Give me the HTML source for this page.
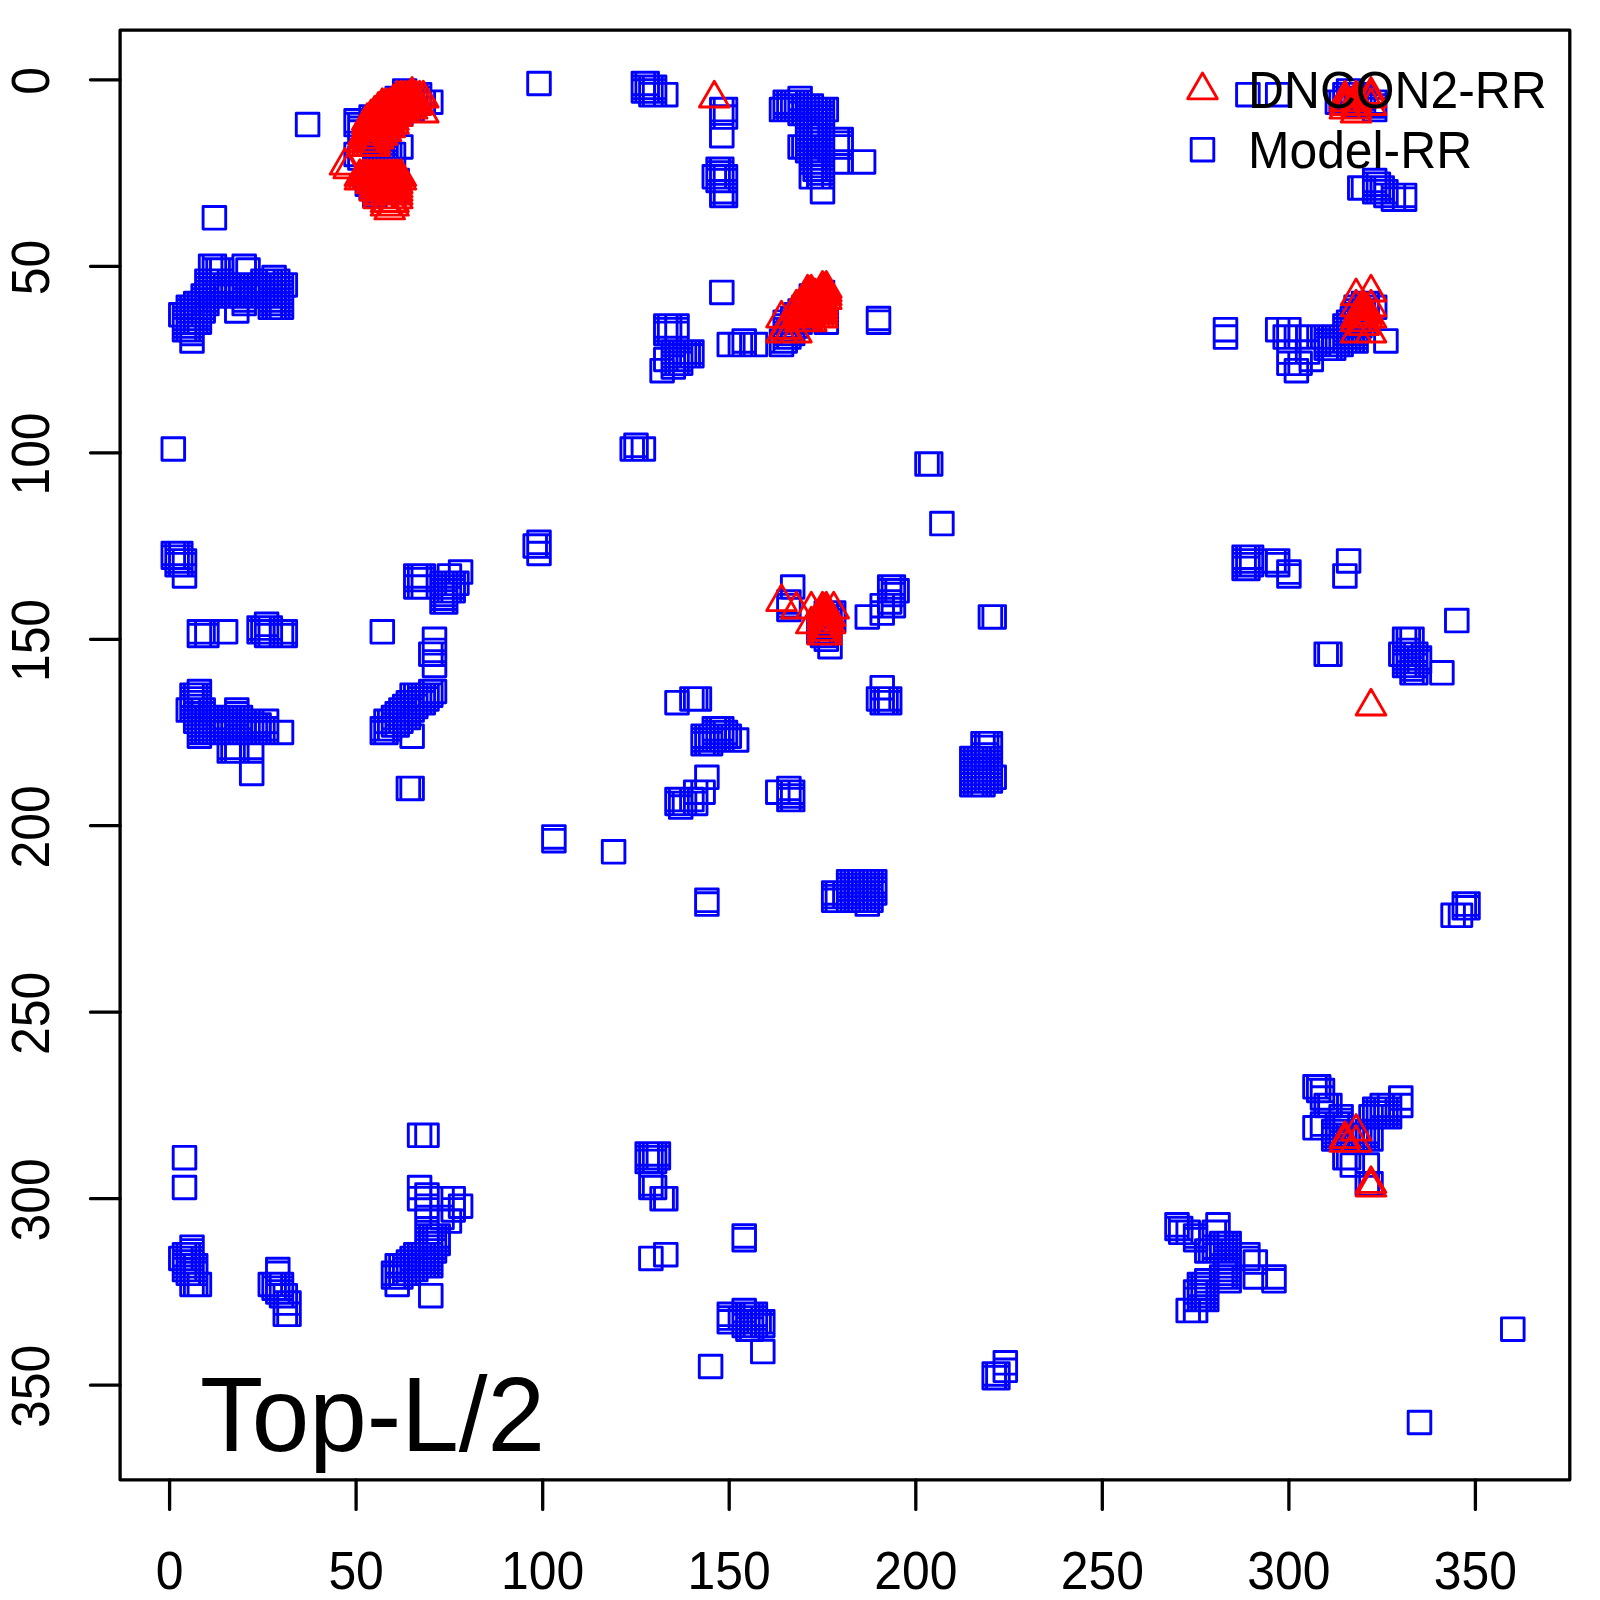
<!DOCTYPE html>
<html><head><meta charset="utf-8"><style>
html,body{margin:0;padding:0;background:#fff;}
svg{display:block;font-family:"Liberation Sans",sans-serif;}
</style></head><body>
<svg width="1600" height="1600" viewBox="0 0 1600 1600">
<rect width="1600" height="1600" fill="#fff"/>
<rect x="120.1" y="30.2" width="1449.7" height="1449.6" fill="none" stroke="#000" stroke-width="3.3" stroke-linejoin="round"/>
<path d="M169.6 1479.8v29.6M120.1 79.8h-29.6M356.1 1479.8v29.6M120.1 266.3h-29.6M542.7 1479.8v29.6M120.1 452.8h-29.6M729.2 1479.8v29.6M120.1 639.3h-29.6M915.8 1479.8v29.6M120.1 825.7h-29.6M1102.3 1479.8v29.6M120.1 1012.2h-29.6M1288.9 1479.8v29.6M120.1 1198.7h-29.6M1475.4 1479.8v29.6M120.1 1385.2h-29.6" fill="none" stroke="#000" stroke-width="3.3" stroke-linecap="round"/>
<text transform="translate(169.6 1588.8) scale(0.997 1.055)" text-anchor="middle" font-size="50">0</text>
<text transform="translate(48.8 81.0) rotate(-90) scale(0.997 1.055)" text-anchor="middle" font-size="50">0</text>
<text transform="translate(356.1 1588.8) scale(0.997 1.055)" text-anchor="middle" font-size="50">50</text>
<text transform="translate(48.8 267.5) rotate(-90) scale(0.997 1.055)" text-anchor="middle" font-size="50">50</text>
<text transform="translate(542.7 1588.8) scale(0.997 1.055)" text-anchor="middle" font-size="50">100</text>
<text transform="translate(48.8 454.0) rotate(-90) scale(0.997 1.055)" text-anchor="middle" font-size="50">100</text>
<text transform="translate(729.2 1588.8) scale(0.997 1.055)" text-anchor="middle" font-size="50">150</text>
<text transform="translate(48.8 640.5) rotate(-90) scale(0.997 1.055)" text-anchor="middle" font-size="50">150</text>
<text transform="translate(915.8 1588.8) scale(0.997 1.055)" text-anchor="middle" font-size="50">200</text>
<text transform="translate(48.8 826.9) rotate(-90) scale(0.997 1.055)" text-anchor="middle" font-size="50">200</text>
<text transform="translate(1102.3 1588.8) scale(0.997 1.055)" text-anchor="middle" font-size="50">250</text>
<text transform="translate(48.8 1013.4) rotate(-90) scale(0.997 1.055)" text-anchor="middle" font-size="50">250</text>
<text transform="translate(1288.9 1588.8) scale(0.997 1.055)" text-anchor="middle" font-size="50">300</text>
<text transform="translate(48.8 1199.9) rotate(-90) scale(0.997 1.055)" text-anchor="middle" font-size="50">300</text>
<text transform="translate(1475.4 1588.8) scale(0.997 1.055)" text-anchor="middle" font-size="50">350</text>
<text transform="translate(48.8 1386.4) rotate(-90) scale(0.997 1.055)" text-anchor="middle" font-size="50">350</text>
<g fill="none" stroke="#0000ff" stroke-width="2.90" stroke-linejoin="round">
<path d="M162.0 437.7h22.6v22.6h-22.6zM162.0 542.2h22.6v22.6h-22.6zM162.0 545.9h22.6v22.6h-22.6zM165.8 542.2h22.6v22.6h-22.6zM165.8 545.9h22.6v22.6h-22.6zM165.8 549.6h22.6v22.6h-22.6zM165.8 553.4h22.6v22.6h-22.6zM169.5 303.5h22.6v22.6h-22.6zM169.5 542.2h22.6v22.6h-22.6zM169.5 545.9h22.6v22.6h-22.6zM169.5 549.6h22.6v22.6h-22.6zM169.5 553.4h22.6v22.6h-22.6zM169.5 1247.1h22.6v22.6h-22.6zM173.2 303.5h22.6v22.6h-22.6zM173.2 307.2h22.6v22.6h-22.6zM173.2 310.9h22.6v22.6h-22.6zM173.2 314.7h22.6v22.6h-22.6zM173.2 318.4h22.6v22.6h-22.6zM173.2 549.6h22.6v22.6h-22.6zM173.2 553.4h22.6v22.6h-22.6zM173.2 564.6h22.6v22.6h-22.6zM173.2 1146.4h22.6v22.6h-22.6zM173.2 1176.2h22.6v22.6h-22.6zM173.2 1243.4h22.6v22.6h-22.6zM173.2 1247.1h22.6v22.6h-22.6zM173.2 1250.8h22.6v22.6h-22.6zM173.2 1254.5h22.6v22.6h-22.6zM173.2 1258.3h22.6v22.6h-22.6zM177.0 296.0h22.6v22.6h-22.6zM177.0 299.7h22.6v22.6h-22.6zM177.0 303.5h22.6v22.6h-22.6zM177.0 307.2h22.6v22.6h-22.6zM177.0 310.9h22.6v22.6h-22.6zM177.0 314.7h22.6v22.6h-22.6zM177.0 318.4h22.6v22.6h-22.6zM177.0 698.8h22.6v22.6h-22.6zM177.0 1243.4h22.6v22.6h-22.6zM177.0 1247.1h22.6v22.6h-22.6zM177.0 1250.8h22.6v22.6h-22.6zM177.0 1254.5h22.6v22.6h-22.6zM177.0 1258.3h22.6v22.6h-22.6zM177.0 1262.0h22.6v22.6h-22.6zM180.7 296.0h22.6v22.6h-22.6zM180.7 299.7h22.6v22.6h-22.6zM180.7 303.5h22.6v22.6h-22.6zM180.7 307.2h22.6v22.6h-22.6zM180.7 310.9h22.6v22.6h-22.6zM180.7 314.7h22.6v22.6h-22.6zM180.7 318.4h22.6v22.6h-22.6zM180.7 322.1h22.6v22.6h-22.6zM180.7 329.6h22.6v22.6h-22.6zM180.7 683.9h22.6v22.6h-22.6zM180.7 687.6h22.6v22.6h-22.6zM180.7 691.4h22.6v22.6h-22.6zM180.7 695.1h22.6v22.6h-22.6zM180.7 698.8h22.6v22.6h-22.6zM180.7 1235.9h22.6v22.6h-22.6zM180.7 1239.6h22.6v22.6h-22.6zM180.7 1243.4h22.6v22.6h-22.6zM180.7 1247.1h22.6v22.6h-22.6zM180.7 1250.8h22.6v22.6h-22.6zM180.7 1254.5h22.6v22.6h-22.6zM180.7 1258.3h22.6v22.6h-22.6zM180.7 1262.0h22.6v22.6h-22.6zM180.7 1273.2h22.6v22.6h-22.6zM184.4 292.3h22.6v22.6h-22.6zM184.4 296.0h22.6v22.6h-22.6zM184.4 299.7h22.6v22.6h-22.6zM184.4 303.5h22.6v22.6h-22.6zM184.4 307.2h22.6v22.6h-22.6zM184.4 310.9h22.6v22.6h-22.6zM184.4 683.9h22.6v22.6h-22.6zM184.4 687.6h22.6v22.6h-22.6zM184.4 691.4h22.6v22.6h-22.6zM184.4 695.1h22.6v22.6h-22.6zM184.4 698.8h22.6v22.6h-22.6zM184.4 702.5h22.6v22.6h-22.6zM184.4 706.3h22.6v22.6h-22.6zM184.4 710.0h22.6v22.6h-22.6zM184.4 1254.5h22.6v22.6h-22.6zM184.4 1258.3h22.6v22.6h-22.6zM184.4 1262.0h22.6v22.6h-22.6zM184.4 1273.2h22.6v22.6h-22.6zM188.1 292.3h22.6v22.6h-22.6zM188.1 296.0h22.6v22.6h-22.6zM188.1 299.7h22.6v22.6h-22.6zM188.1 303.5h22.6v22.6h-22.6zM188.1 307.2h22.6v22.6h-22.6zM188.1 310.9h22.6v22.6h-22.6zM188.1 620.5h22.6v22.6h-22.6zM188.1 624.2h22.6v22.6h-22.6zM188.1 680.2h22.6v22.6h-22.6zM188.1 683.9h22.6v22.6h-22.6zM188.1 687.6h22.6v22.6h-22.6zM188.1 691.4h22.6v22.6h-22.6zM188.1 695.1h22.6v22.6h-22.6zM188.1 698.8h22.6v22.6h-22.6zM188.1 702.5h22.6v22.6h-22.6zM188.1 706.3h22.6v22.6h-22.6zM188.1 710.0h22.6v22.6h-22.6zM188.1 713.7h22.6v22.6h-22.6zM188.1 717.5h22.6v22.6h-22.6zM188.1 721.2h22.6v22.6h-22.6zM188.1 724.9h22.6v22.6h-22.6zM188.1 1273.2h22.6v22.6h-22.6zM191.9 284.8h22.6v22.6h-22.6zM191.9 288.6h22.6v22.6h-22.6zM191.9 292.3h22.6v22.6h-22.6zM191.9 296.0h22.6v22.6h-22.6zM191.9 299.7h22.6v22.6h-22.6zM191.9 698.8h22.6v22.6h-22.6zM191.9 702.5h22.6v22.6h-22.6zM191.9 706.3h22.6v22.6h-22.6zM191.9 710.0h22.6v22.6h-22.6zM191.9 713.7h22.6v22.6h-22.6zM191.9 717.5h22.6v22.6h-22.6zM191.9 721.2h22.6v22.6h-22.6zM195.6 269.9h22.6v22.6h-22.6zM195.6 273.6h22.6v22.6h-22.6zM195.6 277.4h22.6v22.6h-22.6zM195.6 281.1h22.6v22.6h-22.6zM195.6 284.8h22.6v22.6h-22.6zM195.6 288.6h22.6v22.6h-22.6zM195.6 292.3h22.6v22.6h-22.6zM195.6 620.5h22.6v22.6h-22.6zM195.6 624.2h22.6v22.6h-22.6zM195.6 706.3h22.6v22.6h-22.6zM195.6 710.0h22.6v22.6h-22.6zM195.6 713.7h22.6v22.6h-22.6zM195.6 717.5h22.6v22.6h-22.6zM195.6 721.2h22.6v22.6h-22.6zM199.3 255.0h22.6v22.6h-22.6zM199.3 269.9h22.6v22.6h-22.6zM199.3 273.6h22.6v22.6h-22.6zM199.3 277.4h22.6v22.6h-22.6zM199.3 281.1h22.6v22.6h-22.6zM199.3 284.8h22.6v22.6h-22.6zM199.3 706.3h22.6v22.6h-22.6zM199.3 710.0h22.6v22.6h-22.6zM199.3 713.7h22.6v22.6h-22.6zM199.3 717.5h22.6v22.6h-22.6zM199.3 721.2h22.6v22.6h-22.6zM203.1 206.5h22.6v22.6h-22.6zM203.1 255.0h22.6v22.6h-22.6zM203.1 258.7h22.6v22.6h-22.6zM203.1 269.9h22.6v22.6h-22.6zM203.1 273.6h22.6v22.6h-22.6zM203.1 277.4h22.6v22.6h-22.6zM203.1 281.1h22.6v22.6h-22.6zM203.1 284.8h22.6v22.6h-22.6zM203.1 706.3h22.6v22.6h-22.6zM203.1 710.0h22.6v22.6h-22.6zM203.1 713.7h22.6v22.6h-22.6zM203.1 717.5h22.6v22.6h-22.6zM203.1 721.2h22.6v22.6h-22.6zM206.8 258.7h22.6v22.6h-22.6zM206.8 269.9h22.6v22.6h-22.6zM206.8 273.6h22.6v22.6h-22.6zM206.8 277.4h22.6v22.6h-22.6zM206.8 281.1h22.6v22.6h-22.6zM206.8 284.8h22.6v22.6h-22.6zM206.8 706.3h22.6v22.6h-22.6zM206.8 710.0h22.6v22.6h-22.6zM206.8 713.7h22.6v22.6h-22.6zM206.8 717.5h22.6v22.6h-22.6zM206.8 721.2h22.6v22.6h-22.6zM210.5 258.7h22.6v22.6h-22.6zM210.5 269.9h22.6v22.6h-22.6zM210.5 273.6h22.6v22.6h-22.6zM210.5 277.4h22.6v22.6h-22.6zM210.5 281.1h22.6v22.6h-22.6zM210.5 284.8h22.6v22.6h-22.6zM210.5 706.3h22.6v22.6h-22.6zM210.5 710.0h22.6v22.6h-22.6zM210.5 713.7h22.6v22.6h-22.6zM210.5 717.5h22.6v22.6h-22.6zM210.5 721.2h22.6v22.6h-22.6zM214.3 273.6h22.6v22.6h-22.6zM214.3 277.4h22.6v22.6h-22.6zM214.3 281.1h22.6v22.6h-22.6zM214.3 284.8h22.6v22.6h-22.6zM214.3 620.5h22.6v22.6h-22.6zM214.3 706.3h22.6v22.6h-22.6zM214.3 710.0h22.6v22.6h-22.6zM214.3 713.7h22.6v22.6h-22.6zM214.3 717.5h22.6v22.6h-22.6zM214.3 721.2h22.6v22.6h-22.6zM218.0 273.6h22.6v22.6h-22.6zM218.0 277.4h22.6v22.6h-22.6zM218.0 281.1h22.6v22.6h-22.6zM218.0 284.8h22.6v22.6h-22.6zM218.0 706.3h22.6v22.6h-22.6zM218.0 710.0h22.6v22.6h-22.6zM218.0 713.7h22.6v22.6h-22.6zM218.0 717.5h22.6v22.6h-22.6zM218.0 721.2h22.6v22.6h-22.6zM218.0 736.1h22.6v22.6h-22.6zM218.0 739.8h22.6v22.6h-22.6zM221.7 273.6h22.6v22.6h-22.6zM221.7 277.4h22.6v22.6h-22.6zM221.7 281.1h22.6v22.6h-22.6zM221.7 284.8h22.6v22.6h-22.6zM221.7 706.3h22.6v22.6h-22.6zM221.7 710.0h22.6v22.6h-22.6zM221.7 713.7h22.6v22.6h-22.6zM221.7 717.5h22.6v22.6h-22.6zM221.7 721.2h22.6v22.6h-22.6zM221.7 736.1h22.6v22.6h-22.6zM221.7 739.8h22.6v22.6h-22.6zM225.5 273.6h22.6v22.6h-22.6zM225.5 277.4h22.6v22.6h-22.6zM225.5 281.1h22.6v22.6h-22.6zM225.5 284.8h22.6v22.6h-22.6zM225.5 299.7h22.6v22.6h-22.6zM225.5 698.8h22.6v22.6h-22.6zM225.5 702.5h22.6v22.6h-22.6zM225.5 706.3h22.6v22.6h-22.6zM225.5 710.0h22.6v22.6h-22.6zM225.5 713.7h22.6v22.6h-22.6zM225.5 717.5h22.6v22.6h-22.6zM225.5 721.2h22.6v22.6h-22.6zM225.5 736.1h22.6v22.6h-22.6zM225.5 739.8h22.6v22.6h-22.6zM229.2 273.6h22.6v22.6h-22.6zM229.2 277.4h22.6v22.6h-22.6zM229.2 281.1h22.6v22.6h-22.6zM229.2 284.8h22.6v22.6h-22.6zM229.2 706.3h22.6v22.6h-22.6zM229.2 710.0h22.6v22.6h-22.6zM229.2 713.7h22.6v22.6h-22.6zM229.2 717.5h22.6v22.6h-22.6zM229.2 721.2h22.6v22.6h-22.6zM232.9 255.0h22.6v22.6h-22.6zM232.9 273.6h22.6v22.6h-22.6zM232.9 277.4h22.6v22.6h-22.6zM232.9 281.1h22.6v22.6h-22.6zM232.9 284.8h22.6v22.6h-22.6zM232.9 288.6h22.6v22.6h-22.6zM232.9 292.3h22.6v22.6h-22.6zM232.9 710.0h22.6v22.6h-22.6zM232.9 713.7h22.6v22.6h-22.6zM232.9 717.5h22.6v22.6h-22.6zM232.9 721.2h22.6v22.6h-22.6zM236.7 258.7h22.6v22.6h-22.6zM236.7 273.6h22.6v22.6h-22.6zM236.7 277.4h22.6v22.6h-22.6zM236.7 281.1h22.6v22.6h-22.6zM236.7 284.8h22.6v22.6h-22.6zM236.7 710.0h22.6v22.6h-22.6zM236.7 713.7h22.6v22.6h-22.6zM236.7 717.5h22.6v22.6h-22.6zM236.7 721.2h22.6v22.6h-22.6zM240.4 273.6h22.6v22.6h-22.6zM240.4 277.4h22.6v22.6h-22.6zM240.4 281.1h22.6v22.6h-22.6zM240.4 284.8h22.6v22.6h-22.6zM240.4 710.0h22.6v22.6h-22.6zM240.4 713.7h22.6v22.6h-22.6zM240.4 717.5h22.6v22.6h-22.6zM240.4 721.2h22.6v22.6h-22.6zM240.4 736.1h22.6v22.6h-22.6zM240.4 739.8h22.6v22.6h-22.6zM240.4 762.2h22.6v22.6h-22.6zM244.1 273.6h22.6v22.6h-22.6zM244.1 277.4h22.6v22.6h-22.6zM244.1 281.1h22.6v22.6h-22.6zM244.1 284.8h22.6v22.6h-22.6zM244.1 713.7h22.6v22.6h-22.6zM244.1 717.5h22.6v22.6h-22.6zM244.1 721.2h22.6v22.6h-22.6zM247.8 273.6h22.6v22.6h-22.6zM247.8 277.4h22.6v22.6h-22.6zM247.8 281.1h22.6v22.6h-22.6zM247.8 284.8h22.6v22.6h-22.6zM247.8 616.8h22.6v22.6h-22.6zM247.8 620.5h22.6v22.6h-22.6zM247.8 713.7h22.6v22.6h-22.6zM247.8 717.5h22.6v22.6h-22.6zM247.8 721.2h22.6v22.6h-22.6zM251.6 269.9h22.6v22.6h-22.6zM251.6 273.6h22.6v22.6h-22.6zM251.6 277.4h22.6v22.6h-22.6zM251.6 281.1h22.6v22.6h-22.6zM251.6 284.8h22.6v22.6h-22.6zM251.6 616.8h22.6v22.6h-22.6zM251.6 620.5h22.6v22.6h-22.6zM251.6 717.5h22.6v22.6h-22.6zM251.6 721.2h22.6v22.6h-22.6zM255.3 269.9h22.6v22.6h-22.6zM255.3 273.6h22.6v22.6h-22.6zM255.3 277.4h22.6v22.6h-22.6zM255.3 281.1h22.6v22.6h-22.6zM255.3 284.8h22.6v22.6h-22.6zM255.3 613.0h22.6v22.6h-22.6zM255.3 616.8h22.6v22.6h-22.6zM255.3 620.5h22.6v22.6h-22.6zM255.3 624.2h22.6v22.6h-22.6zM255.3 710.0h22.6v22.6h-22.6zM255.3 717.5h22.6v22.6h-22.6zM255.3 721.2h22.6v22.6h-22.6zM259.0 269.9h22.6v22.6h-22.6zM259.0 273.6h22.6v22.6h-22.6zM259.0 277.4h22.6v22.6h-22.6zM259.0 281.1h22.6v22.6h-22.6zM259.0 284.8h22.6v22.6h-22.6zM259.0 288.6h22.6v22.6h-22.6zM259.0 292.3h22.6v22.6h-22.6zM259.0 296.0h22.6v22.6h-22.6zM259.0 616.8h22.6v22.6h-22.6zM259.0 620.5h22.6v22.6h-22.6zM259.0 624.2h22.6v22.6h-22.6zM259.0 1273.2h22.6v22.6h-22.6zM262.8 266.2h22.6v22.6h-22.6zM262.8 269.9h22.6v22.6h-22.6zM262.8 273.6h22.6v22.6h-22.6zM262.8 277.4h22.6v22.6h-22.6zM262.8 281.1h22.6v22.6h-22.6zM262.8 284.8h22.6v22.6h-22.6zM262.8 288.6h22.6v22.6h-22.6zM262.8 292.3h22.6v22.6h-22.6zM262.8 296.0h22.6v22.6h-22.6zM262.8 1273.2h22.6v22.6h-22.6zM262.8 1276.9h22.6v22.6h-22.6zM266.5 269.9h22.6v22.6h-22.6zM266.5 273.6h22.6v22.6h-22.6zM266.5 277.4h22.6v22.6h-22.6zM266.5 281.1h22.6v22.6h-22.6zM266.5 284.8h22.6v22.6h-22.6zM266.5 288.6h22.6v22.6h-22.6zM266.5 292.3h22.6v22.6h-22.6zM266.5 296.0h22.6v22.6h-22.6zM266.5 1258.3h22.6v22.6h-22.6zM266.5 1262.0h22.6v22.6h-22.6zM266.5 1273.2h22.6v22.6h-22.6zM266.5 1276.9h22.6v22.6h-22.6zM266.5 1280.7h22.6v22.6h-22.6zM270.2 273.6h22.6v22.6h-22.6zM270.2 277.4h22.6v22.6h-22.6zM270.2 281.1h22.6v22.6h-22.6zM270.2 284.8h22.6v22.6h-22.6zM270.2 288.6h22.6v22.6h-22.6zM270.2 292.3h22.6v22.6h-22.6zM270.2 296.0h22.6v22.6h-22.6zM270.2 620.5h22.6v22.6h-22.6zM270.2 624.2h22.6v22.6h-22.6zM270.2 721.2h22.6v22.6h-22.6zM270.2 1273.2h22.6v22.6h-22.6zM270.2 1276.9h22.6v22.6h-22.6zM270.2 1280.7h22.6v22.6h-22.6zM270.2 1284.4h22.6v22.6h-22.6zM274.0 273.6h22.6v22.6h-22.6zM274.0 620.5h22.6v22.6h-22.6zM274.0 624.2h22.6v22.6h-22.6zM274.0 1284.4h22.6v22.6h-22.6zM274.0 1291.8h22.6v22.6h-22.6zM274.0 1303.0h22.6v22.6h-22.6zM277.7 1291.8h22.6v22.6h-22.6zM277.7 1303.0h22.6v22.6h-22.6zM371.0 620.5h22.6v22.6h-22.6zM371.0 717.5h22.6v22.6h-22.6zM371.0 721.2h22.6v22.6h-22.6zM374.7 710.0h22.6v22.6h-22.6zM374.7 721.2h22.6v22.6h-22.6zM378.4 710.0h22.6v22.6h-22.6zM378.4 717.5h22.6v22.6h-22.6zM382.2 706.3h22.6v22.6h-22.6zM382.2 713.7h22.6v22.6h-22.6zM382.2 1262.0h22.6v22.6h-22.6zM382.2 1265.7h22.6v22.6h-22.6zM385.9 702.5h22.6v22.6h-22.6zM385.9 710.0h22.6v22.6h-22.6zM385.9 713.7h22.6v22.6h-22.6zM385.9 1254.5h22.6v22.6h-22.6zM385.9 1262.0h22.6v22.6h-22.6zM385.9 1273.2h22.6v22.6h-22.6zM389.6 698.8h22.6v22.6h-22.6zM389.6 706.3h22.6v22.6h-22.6zM389.6 710.0h22.6v22.6h-22.6zM389.6 1254.5h22.6v22.6h-22.6zM389.6 1262.0h22.6v22.6h-22.6zM389.6 1265.7h22.6v22.6h-22.6zM393.4 695.1h22.6v22.6h-22.6zM393.4 702.5h22.6v22.6h-22.6zM393.4 706.3h22.6v22.6h-22.6zM393.4 1254.5h22.6v22.6h-22.6zM393.4 1258.3h22.6v22.6h-22.6zM393.4 1262.0h22.6v22.6h-22.6zM397.1 691.4h22.6v22.6h-22.6zM397.1 698.8h22.6v22.6h-22.6zM397.1 706.3h22.6v22.6h-22.6zM397.1 777.1h22.6v22.6h-22.6zM397.1 1250.8h22.6v22.6h-22.6zM397.1 1258.3h22.6v22.6h-22.6zM397.1 1262.0h22.6v22.6h-22.6zM400.8 683.9h22.6v22.6h-22.6zM400.8 691.4h22.6v22.6h-22.6zM400.8 698.8h22.6v22.6h-22.6zM400.8 724.9h22.6v22.6h-22.6zM400.8 777.1h22.6v22.6h-22.6zM400.8 1247.1h22.6v22.6h-22.6zM400.8 1254.5h22.6v22.6h-22.6zM400.8 1258.3h22.6v22.6h-22.6zM404.5 564.6h22.6v22.6h-22.6zM404.5 568.3h22.6v22.6h-22.6zM404.5 575.7h22.6v22.6h-22.6zM404.5 683.9h22.6v22.6h-22.6zM404.5 691.4h22.6v22.6h-22.6zM404.5 695.1h22.6v22.6h-22.6zM404.5 1243.4h22.6v22.6h-22.6zM404.5 1250.8h22.6v22.6h-22.6zM404.5 1258.3h22.6v22.6h-22.6zM408.3 564.6h22.6v22.6h-22.6zM408.3 568.3h22.6v22.6h-22.6zM408.3 575.7h22.6v22.6h-22.6zM408.3 683.9h22.6v22.6h-22.6zM408.3 687.6h22.6v22.6h-22.6zM408.3 691.4h22.6v22.6h-22.6zM408.3 1124.0h22.6v22.6h-22.6zM408.3 1176.2h22.6v22.6h-22.6zM408.3 1187.4h22.6v22.6h-22.6zM408.3 1243.4h22.6v22.6h-22.6zM408.3 1250.8h22.6v22.6h-22.6zM408.3 1254.5h22.6v22.6h-22.6zM412.0 564.6h22.6v22.6h-22.6zM412.0 568.3h22.6v22.6h-22.6zM412.0 575.7h22.6v22.6h-22.6zM412.0 683.9h22.6v22.6h-22.6zM412.0 691.4h22.6v22.6h-22.6zM412.0 1243.4h22.6v22.6h-22.6zM412.0 1247.1h22.6v22.6h-22.6zM412.0 1254.5h22.6v22.6h-22.6zM415.7 683.9h22.6v22.6h-22.6zM415.7 687.6h22.6v22.6h-22.6zM415.7 1124.0h22.6v22.6h-22.6zM415.7 1183.7h22.6v22.6h-22.6zM415.7 1194.9h22.6v22.6h-22.6zM415.7 1198.6h22.6v22.6h-22.6zM415.7 1209.8h22.6v22.6h-22.6zM415.7 1224.7h22.6v22.6h-22.6zM415.7 1228.4h22.6v22.6h-22.6zM415.7 1232.2h22.6v22.6h-22.6zM415.7 1235.9h22.6v22.6h-22.6zM415.7 1239.6h22.6v22.6h-22.6zM415.7 1243.4h22.6v22.6h-22.6zM415.7 1247.1h22.6v22.6h-22.6zM415.7 1250.8h22.6v22.6h-22.6zM415.7 1254.5h22.6v22.6h-22.6zM419.5 642.9h22.6v22.6h-22.6zM419.5 680.2h22.6v22.6h-22.6zM419.5 683.9h22.6v22.6h-22.6zM419.5 1224.7h22.6v22.6h-22.6zM419.5 1228.4h22.6v22.6h-22.6zM419.5 1232.2h22.6v22.6h-22.6zM419.5 1235.9h22.6v22.6h-22.6zM419.5 1239.6h22.6v22.6h-22.6zM419.5 1243.4h22.6v22.6h-22.6zM419.5 1247.1h22.6v22.6h-22.6zM419.5 1250.8h22.6v22.6h-22.6zM419.5 1254.5h22.6v22.6h-22.6zM419.5 1284.4h22.6v22.6h-22.6zM423.2 628.0h22.6v22.6h-22.6zM423.2 639.1h22.6v22.6h-22.6zM423.2 642.9h22.6v22.6h-22.6zM423.2 654.1h22.6v22.6h-22.6zM423.2 680.2h22.6v22.6h-22.6zM423.2 1224.7h22.6v22.6h-22.6zM423.2 1228.4h22.6v22.6h-22.6zM423.2 1232.2h22.6v22.6h-22.6zM423.2 1235.9h22.6v22.6h-22.6zM423.2 1239.6h22.6v22.6h-22.6zM426.9 1224.7h22.6v22.6h-22.6zM426.9 1228.4h22.6v22.6h-22.6zM426.9 1232.2h22.6v22.6h-22.6zM430.7 572.0h22.6v22.6h-22.6zM430.7 575.7h22.6v22.6h-22.6zM430.7 579.5h22.6v22.6h-22.6zM430.7 583.2h22.6v22.6h-22.6zM430.7 586.9h22.6v22.6h-22.6zM430.7 590.7h22.6v22.6h-22.6zM430.7 1187.4h22.6v22.6h-22.6zM430.7 1206.1h22.6v22.6h-22.6zM434.4 572.0h22.6v22.6h-22.6zM434.4 575.7h22.6v22.6h-22.6zM434.4 579.5h22.6v22.6h-22.6zM434.4 583.2h22.6v22.6h-22.6zM434.4 586.9h22.6v22.6h-22.6zM434.4 590.7h22.6v22.6h-22.6zM438.1 564.6h22.6v22.6h-22.6zM438.1 572.0h22.6v22.6h-22.6zM438.1 575.7h22.6v22.6h-22.6zM438.1 579.5h22.6v22.6h-22.6zM438.1 1209.8h22.6v22.6h-22.6zM441.9 572.0h22.6v22.6h-22.6zM441.9 575.7h22.6v22.6h-22.6zM441.9 579.5h22.6v22.6h-22.6zM441.9 1187.4h22.6v22.6h-22.6zM441.9 1198.6h22.6v22.6h-22.6zM445.6 572.0h22.6v22.6h-22.6zM449.3 560.8h22.6v22.6h-22.6zM449.3 1194.9h22.6v22.6h-22.6zM523.9 534.7h22.6v22.6h-22.6zM527.7 531.0h22.6v22.6h-22.6zM527.7 534.7h22.6v22.6h-22.6zM527.7 542.2h22.6v22.6h-22.6zM542.6 825.6h22.6v22.6h-22.6zM542.6 829.4h22.6v22.6h-22.6zM602.3 840.5h22.6v22.6h-22.6zM635.9 1142.7h22.6v22.6h-22.6zM635.9 1146.4h22.6v22.6h-22.6zM635.9 1150.1h22.6v22.6h-22.6zM639.6 1142.7h22.6v22.6h-22.6zM639.6 1146.4h22.6v22.6h-22.6zM639.6 1150.1h22.6v22.6h-22.6zM639.6 1172.5h22.6v22.6h-22.6zM639.6 1176.2h22.6v22.6h-22.6zM639.6 1247.1h22.6v22.6h-22.6zM643.3 1142.7h22.6v22.6h-22.6zM643.3 1146.4h22.6v22.6h-22.6zM643.3 1150.1h22.6v22.6h-22.6zM643.3 1176.2h22.6v22.6h-22.6zM647.1 1142.7h22.6v22.6h-22.6zM647.1 1146.4h22.6v22.6h-22.6zM650.8 1187.4h22.6v22.6h-22.6zM654.5 1187.4h22.6v22.6h-22.6zM654.5 1243.4h22.6v22.6h-22.6zM665.7 691.4h22.6v22.6h-22.6zM665.7 788.3h22.6v22.6h-22.6zM665.7 792.1h22.6v22.6h-22.6zM669.4 788.3h22.6v22.6h-22.6zM669.4 795.8h22.6v22.6h-22.6zM673.2 792.1h22.6v22.6h-22.6zM680.6 687.6h22.6v22.6h-22.6zM680.6 788.3h22.6v22.6h-22.6zM684.4 687.6h22.6v22.6h-22.6zM684.4 780.9h22.6v22.6h-22.6zM684.4 792.1h22.6v22.6h-22.6zM688.1 687.6h22.6v22.6h-22.6zM691.8 724.9h22.6v22.6h-22.6zM691.8 728.7h22.6v22.6h-22.6zM691.8 732.4h22.6v22.6h-22.6zM691.8 780.9h22.6v22.6h-22.6zM695.6 724.9h22.6v22.6h-22.6zM695.6 728.7h22.6v22.6h-22.6zM695.6 732.4h22.6v22.6h-22.6zM695.6 766.0h22.6v22.6h-22.6zM695.6 889.0h22.6v22.6h-22.6zM695.6 892.8h22.6v22.6h-22.6zM699.3 724.9h22.6v22.6h-22.6zM699.3 728.7h22.6v22.6h-22.6zM699.3 732.4h22.6v22.6h-22.6zM699.3 1355.2h22.6v22.6h-22.6zM703.0 717.5h22.6v22.6h-22.6zM703.0 721.2h22.6v22.6h-22.6zM703.0 724.9h22.6v22.6h-22.6zM703.0 728.7h22.6v22.6h-22.6zM706.8 717.5h22.6v22.6h-22.6zM706.8 721.2h22.6v22.6h-22.6zM706.8 724.9h22.6v22.6h-22.6zM706.8 728.7h22.6v22.6h-22.6zM710.5 717.5h22.6v22.6h-22.6zM710.5 721.2h22.6v22.6h-22.6zM710.5 724.9h22.6v22.6h-22.6zM710.5 728.7h22.6v22.6h-22.6zM714.2 721.2h22.6v22.6h-22.6zM714.2 724.9h22.6v22.6h-22.6zM718.0 724.9h22.6v22.6h-22.6zM718.0 1303.0h22.6v22.6h-22.6zM718.0 1306.8h22.6v22.6h-22.6zM718.0 1310.5h22.6v22.6h-22.6zM725.4 728.7h22.6v22.6h-22.6zM729.1 1306.8h22.6v22.6h-22.6zM732.9 1224.7h22.6v22.6h-22.6zM732.9 1228.4h22.6v22.6h-22.6zM732.9 1299.3h22.6v22.6h-22.6zM732.9 1303.0h22.6v22.6h-22.6zM732.9 1306.8h22.6v22.6h-22.6zM732.9 1310.5h22.6v22.6h-22.6zM732.9 1314.2h22.6v22.6h-22.6zM736.6 1303.0h22.6v22.6h-22.6zM736.6 1306.8h22.6v22.6h-22.6zM736.6 1310.5h22.6v22.6h-22.6zM736.6 1314.2h22.6v22.6h-22.6zM736.6 1317.9h22.6v22.6h-22.6zM740.3 1303.0h22.6v22.6h-22.6zM740.3 1306.8h22.6v22.6h-22.6zM740.3 1310.5h22.6v22.6h-22.6zM740.3 1314.2h22.6v22.6h-22.6zM740.3 1317.9h22.6v22.6h-22.6zM744.1 1303.0h22.6v22.6h-22.6zM744.1 1306.8h22.6v22.6h-22.6zM744.1 1310.5h22.6v22.6h-22.6zM744.1 1314.2h22.6v22.6h-22.6zM747.8 1310.5h22.6v22.6h-22.6zM751.5 1310.5h22.6v22.6h-22.6zM751.5 1314.2h22.6v22.6h-22.6zM751.5 1340.3h22.6v22.6h-22.6zM766.5 780.9h22.6v22.6h-22.6zM777.6 777.1h22.6v22.6h-22.6zM777.6 780.9h22.6v22.6h-22.6zM777.6 784.6h22.6v22.6h-22.6zM777.6 788.3h22.6v22.6h-22.6zM781.4 780.9h22.6v22.6h-22.6zM781.4 784.6h22.6v22.6h-22.6zM781.4 788.3h22.6v22.6h-22.6zM822.4 881.6h22.6v22.6h-22.6zM822.4 885.3h22.6v22.6h-22.6zM822.4 889.0h22.6v22.6h-22.6zM826.1 881.6h22.6v22.6h-22.6zM826.1 889.0h22.6v22.6h-22.6zM833.6 881.6h22.6v22.6h-22.6zM833.6 885.3h22.6v22.6h-22.6zM837.3 870.4h22.6v22.6h-22.6zM837.3 874.1h22.6v22.6h-22.6zM837.3 877.8h22.6v22.6h-22.6zM837.3 881.6h22.6v22.6h-22.6zM837.3 885.3h22.6v22.6h-22.6zM837.3 889.0h22.6v22.6h-22.6zM841.1 870.4h22.6v22.6h-22.6zM841.1 874.1h22.6v22.6h-22.6zM841.1 877.8h22.6v22.6h-22.6zM841.1 881.6h22.6v22.6h-22.6zM841.1 885.3h22.6v22.6h-22.6zM841.1 889.0h22.6v22.6h-22.6zM844.8 870.4h22.6v22.6h-22.6zM844.8 874.1h22.6v22.6h-22.6zM844.8 877.8h22.6v22.6h-22.6zM844.8 881.6h22.6v22.6h-22.6zM844.8 885.3h22.6v22.6h-22.6zM844.8 889.0h22.6v22.6h-22.6zM848.5 870.4h22.6v22.6h-22.6zM848.5 874.1h22.6v22.6h-22.6zM848.5 877.8h22.6v22.6h-22.6zM848.5 881.6h22.6v22.6h-22.6zM848.5 885.3h22.6v22.6h-22.6zM848.5 889.0h22.6v22.6h-22.6zM852.3 870.4h22.6v22.6h-22.6zM852.3 874.1h22.6v22.6h-22.6zM852.3 877.8h22.6v22.6h-22.6zM852.3 881.6h22.6v22.6h-22.6zM852.3 885.3h22.6v22.6h-22.6zM852.3 889.0h22.6v22.6h-22.6zM856.0 870.4h22.6v22.6h-22.6zM856.0 874.1h22.6v22.6h-22.6zM856.0 877.8h22.6v22.6h-22.6zM856.0 881.6h22.6v22.6h-22.6zM856.0 885.3h22.6v22.6h-22.6zM856.0 889.0h22.6v22.6h-22.6zM856.0 892.8h22.6v22.6h-22.6zM859.7 870.4h22.6v22.6h-22.6zM859.7 874.1h22.6v22.6h-22.6zM859.7 877.8h22.6v22.6h-22.6zM859.7 881.6h22.6v22.6h-22.6zM859.7 885.3h22.6v22.6h-22.6zM859.7 889.0h22.6v22.6h-22.6zM863.5 870.4h22.6v22.6h-22.6zM863.5 874.1h22.6v22.6h-22.6zM863.5 877.8h22.6v22.6h-22.6zM863.5 881.6h22.6v22.6h-22.6zM982.9 1362.7h22.6v22.6h-22.6zM982.9 1366.4h22.6v22.6h-22.6zM986.6 1362.7h22.6v22.6h-22.6zM986.6 1366.4h22.6v22.6h-22.6zM994.0 1351.5h22.6v22.6h-22.6zM994.0 1359.0h22.6v22.6h-22.6zM1165.7 1213.5h22.6v22.6h-22.6zM1165.7 1217.2h22.6v22.6h-22.6zM1169.4 1217.2h22.6v22.6h-22.6zM1169.4 1221.0h22.6v22.6h-22.6zM1176.9 1221.0h22.6v22.6h-22.6zM1176.9 1299.3h22.6v22.6h-22.6zM1184.3 1224.7h22.6v22.6h-22.6zM1184.3 1228.4h22.6v22.6h-22.6zM1184.3 1280.7h22.6v22.6h-22.6zM1184.3 1288.1h22.6v22.6h-22.6zM1184.3 1299.3h22.6v22.6h-22.6zM1188.1 1273.2h22.6v22.6h-22.6zM1188.1 1276.9h22.6v22.6h-22.6zM1188.1 1280.7h22.6v22.6h-22.6zM1188.1 1284.4h22.6v22.6h-22.6zM1188.1 1288.1h22.6v22.6h-22.6zM1191.8 1273.2h22.6v22.6h-22.6zM1191.8 1276.9h22.6v22.6h-22.6zM1191.8 1280.7h22.6v22.6h-22.6zM1191.8 1284.4h22.6v22.6h-22.6zM1191.8 1288.1h22.6v22.6h-22.6zM1195.5 1239.6h22.6v22.6h-22.6zM1195.5 1269.5h22.6v22.6h-22.6zM1195.5 1273.2h22.6v22.6h-22.6zM1195.5 1276.9h22.6v22.6h-22.6zM1195.5 1280.7h22.6v22.6h-22.6zM1195.5 1284.4h22.6v22.6h-22.6zM1195.5 1288.1h22.6v22.6h-22.6zM1199.2 1239.6h22.6v22.6h-22.6zM1203.0 1221.0h22.6v22.6h-22.6zM1203.0 1235.9h22.6v22.6h-22.6zM1203.0 1239.6h22.6v22.6h-22.6zM1206.7 1213.5h22.6v22.6h-22.6zM1206.7 1221.0h22.6v22.6h-22.6zM1206.7 1235.9h22.6v22.6h-22.6zM1206.7 1239.6h22.6v22.6h-22.6zM1210.4 1232.2h22.6v22.6h-22.6zM1210.4 1235.9h22.6v22.6h-22.6zM1210.4 1239.6h22.6v22.6h-22.6zM1210.4 1265.7h22.6v22.6h-22.6zM1214.2 1232.2h22.6v22.6h-22.6zM1214.2 1235.9h22.6v22.6h-22.6zM1214.2 1239.6h22.6v22.6h-22.6zM1214.2 1243.4h22.6v22.6h-22.6zM1214.2 1247.1h22.6v22.6h-22.6zM1214.2 1250.8h22.6v22.6h-22.6zM1214.2 1254.5h22.6v22.6h-22.6zM1214.2 1258.3h22.6v22.6h-22.6zM1214.2 1262.0h22.6v22.6h-22.6zM1214.2 1265.7h22.6v22.6h-22.6zM1217.9 1232.2h22.6v22.6h-22.6zM1217.9 1235.9h22.6v22.6h-22.6zM1217.9 1239.6h22.6v22.6h-22.6zM1217.9 1243.4h22.6v22.6h-22.6zM1217.9 1247.1h22.6v22.6h-22.6zM1217.9 1250.8h22.6v22.6h-22.6zM1217.9 1254.5h22.6v22.6h-22.6zM1217.9 1258.3h22.6v22.6h-22.6zM1217.9 1262.0h22.6v22.6h-22.6zM1217.9 1265.7h22.6v22.6h-22.6zM1217.9 1269.5h22.6v22.6h-22.6zM1236.6 1243.4h22.6v22.6h-22.6zM1236.6 1247.1h22.6v22.6h-22.6zM1244.0 1250.8h22.6v22.6h-22.6zM1244.0 1265.7h22.6v22.6h-22.6zM1262.7 1265.7h22.6v22.6h-22.6zM1262.7 1269.5h22.6v22.6h-22.6zM1408.2 1411.2h22.6v22.6h-22.6zM527.7 72.2h22.6v22.6h-22.6zM632.1 72.2h22.6v22.6h-22.6zM635.9 72.2h22.6v22.6h-22.6zM632.1 76.0h22.6v22.6h-22.6zM635.9 76.0h22.6v22.6h-22.6zM639.6 76.0h22.6v22.6h-22.6zM643.3 76.0h22.6v22.6h-22.6zM393.4 79.7h22.6v22.6h-22.6zM632.1 79.7h22.6v22.6h-22.6zM635.9 79.7h22.6v22.6h-22.6zM639.6 79.7h22.6v22.6h-22.6zM643.3 79.7h22.6v22.6h-22.6zM1337.3 79.7h22.6v22.6h-22.6zM393.4 83.4h22.6v22.6h-22.6zM397.1 83.4h22.6v22.6h-22.6zM400.8 83.4h22.6v22.6h-22.6zM404.5 83.4h22.6v22.6h-22.6zM408.3 83.4h22.6v22.6h-22.6zM639.6 83.4h22.6v22.6h-22.6zM643.3 83.4h22.6v22.6h-22.6zM654.5 83.4h22.6v22.6h-22.6zM1236.6 83.4h22.6v22.6h-22.6zM1266.4 83.4h22.6v22.6h-22.6zM1333.6 83.4h22.6v22.6h-22.6zM1337.3 83.4h22.6v22.6h-22.6zM1341.0 83.4h22.6v22.6h-22.6zM1344.8 83.4h22.6v22.6h-22.6zM1348.5 83.4h22.6v22.6h-22.6zM385.9 87.1h22.6v22.6h-22.6zM389.6 87.1h22.6v22.6h-22.6zM393.4 87.1h22.6v22.6h-22.6zM397.1 87.1h22.6v22.6h-22.6zM400.8 87.1h22.6v22.6h-22.6zM404.5 87.1h22.6v22.6h-22.6zM408.3 87.1h22.6v22.6h-22.6zM788.8 87.1h22.6v22.6h-22.6zM1333.6 87.1h22.6v22.6h-22.6zM1337.3 87.1h22.6v22.6h-22.6zM1341.0 87.1h22.6v22.6h-22.6zM1344.8 87.1h22.6v22.6h-22.6zM1348.5 87.1h22.6v22.6h-22.6zM1352.2 87.1h22.6v22.6h-22.6zM385.9 90.9h22.6v22.6h-22.6zM389.6 90.9h22.6v22.6h-22.6zM393.4 90.9h22.6v22.6h-22.6zM397.1 90.9h22.6v22.6h-22.6zM400.8 90.9h22.6v22.6h-22.6zM404.5 90.9h22.6v22.6h-22.6zM408.3 90.9h22.6v22.6h-22.6zM412.0 90.9h22.6v22.6h-22.6zM419.5 90.9h22.6v22.6h-22.6zM773.9 90.9h22.6v22.6h-22.6zM777.6 90.9h22.6v22.6h-22.6zM781.4 90.9h22.6v22.6h-22.6zM785.1 90.9h22.6v22.6h-22.6zM788.8 90.9h22.6v22.6h-22.6zM1326.1 90.9h22.6v22.6h-22.6zM1329.8 90.9h22.6v22.6h-22.6zM1333.6 90.9h22.6v22.6h-22.6zM1337.3 90.9h22.6v22.6h-22.6zM1341.0 90.9h22.6v22.6h-22.6zM1344.8 90.9h22.6v22.6h-22.6zM1348.5 90.9h22.6v22.6h-22.6zM1352.2 90.9h22.6v22.6h-22.6zM1363.4 90.9h22.6v22.6h-22.6zM382.2 94.6h22.6v22.6h-22.6zM385.9 94.6h22.6v22.6h-22.6zM389.6 94.6h22.6v22.6h-22.6zM393.4 94.6h22.6v22.6h-22.6zM397.1 94.6h22.6v22.6h-22.6zM400.8 94.6h22.6v22.6h-22.6zM773.9 94.6h22.6v22.6h-22.6zM777.6 94.6h22.6v22.6h-22.6zM781.4 94.6h22.6v22.6h-22.6zM785.1 94.6h22.6v22.6h-22.6zM788.8 94.6h22.6v22.6h-22.6zM792.6 94.6h22.6v22.6h-22.6zM796.3 94.6h22.6v22.6h-22.6zM800.0 94.6h22.6v22.6h-22.6zM1344.8 94.6h22.6v22.6h-22.6zM1348.5 94.6h22.6v22.6h-22.6zM1352.2 94.6h22.6v22.6h-22.6zM1363.4 94.6h22.6v22.6h-22.6zM382.2 98.3h22.6v22.6h-22.6zM385.9 98.3h22.6v22.6h-22.6zM389.6 98.3h22.6v22.6h-22.6zM393.4 98.3h22.6v22.6h-22.6zM397.1 98.3h22.6v22.6h-22.6zM400.8 98.3h22.6v22.6h-22.6zM710.5 98.3h22.6v22.6h-22.6zM714.2 98.3h22.6v22.6h-22.6zM770.2 98.3h22.6v22.6h-22.6zM773.9 98.3h22.6v22.6h-22.6zM777.6 98.3h22.6v22.6h-22.6zM781.4 98.3h22.6v22.6h-22.6zM785.1 98.3h22.6v22.6h-22.6zM788.8 98.3h22.6v22.6h-22.6zM792.6 98.3h22.6v22.6h-22.6zM796.3 98.3h22.6v22.6h-22.6zM800.0 98.3h22.6v22.6h-22.6zM803.8 98.3h22.6v22.6h-22.6zM807.5 98.3h22.6v22.6h-22.6zM811.2 98.3h22.6v22.6h-22.6zM815.0 98.3h22.6v22.6h-22.6zM1363.4 98.3h22.6v22.6h-22.6zM374.7 102.1h22.6v22.6h-22.6zM378.4 102.1h22.6v22.6h-22.6zM382.2 102.1h22.6v22.6h-22.6zM385.9 102.1h22.6v22.6h-22.6zM389.6 102.1h22.6v22.6h-22.6zM788.8 102.1h22.6v22.6h-22.6zM792.6 102.1h22.6v22.6h-22.6zM796.3 102.1h22.6v22.6h-22.6zM800.0 102.1h22.6v22.6h-22.6zM803.8 102.1h22.6v22.6h-22.6zM807.5 102.1h22.6v22.6h-22.6zM811.2 102.1h22.6v22.6h-22.6zM359.8 105.8h22.6v22.6h-22.6zM363.5 105.8h22.6v22.6h-22.6zM367.2 105.8h22.6v22.6h-22.6zM371.0 105.8h22.6v22.6h-22.6zM374.7 105.8h22.6v22.6h-22.6zM378.4 105.8h22.6v22.6h-22.6zM382.2 105.8h22.6v22.6h-22.6zM710.5 105.8h22.6v22.6h-22.6zM714.2 105.8h22.6v22.6h-22.6zM796.3 105.8h22.6v22.6h-22.6zM800.0 105.8h22.6v22.6h-22.6zM803.8 105.8h22.6v22.6h-22.6zM807.5 105.8h22.6v22.6h-22.6zM811.2 105.8h22.6v22.6h-22.6zM344.8 109.5h22.6v22.6h-22.6zM359.8 109.5h22.6v22.6h-22.6zM363.5 109.5h22.6v22.6h-22.6zM367.2 109.5h22.6v22.6h-22.6zM371.0 109.5h22.6v22.6h-22.6zM374.7 109.5h22.6v22.6h-22.6zM796.3 109.5h22.6v22.6h-22.6zM800.0 109.5h22.6v22.6h-22.6zM803.8 109.5h22.6v22.6h-22.6zM807.5 109.5h22.6v22.6h-22.6zM811.2 109.5h22.6v22.6h-22.6zM296.3 113.3h22.6v22.6h-22.6zM344.8 113.3h22.6v22.6h-22.6zM348.6 113.3h22.6v22.6h-22.6zM359.8 113.3h22.6v22.6h-22.6zM363.5 113.3h22.6v22.6h-22.6zM367.2 113.3h22.6v22.6h-22.6zM371.0 113.3h22.6v22.6h-22.6zM374.7 113.3h22.6v22.6h-22.6zM796.3 113.3h22.6v22.6h-22.6zM800.0 113.3h22.6v22.6h-22.6zM803.8 113.3h22.6v22.6h-22.6zM807.5 113.3h22.6v22.6h-22.6zM811.2 113.3h22.6v22.6h-22.6zM348.6 117.0h22.6v22.6h-22.6zM359.8 117.0h22.6v22.6h-22.6zM363.5 117.0h22.6v22.6h-22.6zM367.2 117.0h22.6v22.6h-22.6zM371.0 117.0h22.6v22.6h-22.6zM374.7 117.0h22.6v22.6h-22.6zM796.3 117.0h22.6v22.6h-22.6zM800.0 117.0h22.6v22.6h-22.6zM803.8 117.0h22.6v22.6h-22.6zM807.5 117.0h22.6v22.6h-22.6zM811.2 117.0h22.6v22.6h-22.6zM348.6 120.7h22.6v22.6h-22.6zM359.8 120.7h22.6v22.6h-22.6zM363.5 120.7h22.6v22.6h-22.6zM367.2 120.7h22.6v22.6h-22.6zM371.0 120.7h22.6v22.6h-22.6zM374.7 120.7h22.6v22.6h-22.6zM796.3 120.7h22.6v22.6h-22.6zM800.0 120.7h22.6v22.6h-22.6zM803.8 120.7h22.6v22.6h-22.6zM807.5 120.7h22.6v22.6h-22.6zM811.2 120.7h22.6v22.6h-22.6zM363.5 124.4h22.6v22.6h-22.6zM367.2 124.4h22.6v22.6h-22.6zM371.0 124.4h22.6v22.6h-22.6zM374.7 124.4h22.6v22.6h-22.6zM710.5 124.4h22.6v22.6h-22.6zM796.3 124.4h22.6v22.6h-22.6zM800.0 124.4h22.6v22.6h-22.6zM803.8 124.4h22.6v22.6h-22.6zM807.5 124.4h22.6v22.6h-22.6zM811.2 124.4h22.6v22.6h-22.6zM363.5 128.2h22.6v22.6h-22.6zM367.2 128.2h22.6v22.6h-22.6zM371.0 128.2h22.6v22.6h-22.6zM374.7 128.2h22.6v22.6h-22.6zM796.3 128.2h22.6v22.6h-22.6zM800.0 128.2h22.6v22.6h-22.6zM803.8 128.2h22.6v22.6h-22.6zM807.5 128.2h22.6v22.6h-22.6zM811.2 128.2h22.6v22.6h-22.6zM826.1 128.2h22.6v22.6h-22.6zM829.9 128.2h22.6v22.6h-22.6zM363.5 131.9h22.6v22.6h-22.6zM367.2 131.9h22.6v22.6h-22.6zM371.0 131.9h22.6v22.6h-22.6zM374.7 131.9h22.6v22.6h-22.6zM796.3 131.9h22.6v22.6h-22.6zM800.0 131.9h22.6v22.6h-22.6zM803.8 131.9h22.6v22.6h-22.6zM807.5 131.9h22.6v22.6h-22.6zM811.2 131.9h22.6v22.6h-22.6zM826.1 131.9h22.6v22.6h-22.6zM829.9 131.9h22.6v22.6h-22.6zM363.5 135.6h22.6v22.6h-22.6zM367.2 135.6h22.6v22.6h-22.6zM371.0 135.6h22.6v22.6h-22.6zM374.7 135.6h22.6v22.6h-22.6zM389.6 135.6h22.6v22.6h-22.6zM788.8 135.6h22.6v22.6h-22.6zM792.6 135.6h22.6v22.6h-22.6zM796.3 135.6h22.6v22.6h-22.6zM800.0 135.6h22.6v22.6h-22.6zM803.8 135.6h22.6v22.6h-22.6zM807.5 135.6h22.6v22.6h-22.6zM811.2 135.6h22.6v22.6h-22.6zM826.1 135.6h22.6v22.6h-22.6zM829.9 135.6h22.6v22.6h-22.6zM363.5 139.4h22.6v22.6h-22.6zM367.2 139.4h22.6v22.6h-22.6zM371.0 139.4h22.6v22.6h-22.6zM374.7 139.4h22.6v22.6h-22.6zM796.3 139.4h22.6v22.6h-22.6zM800.0 139.4h22.6v22.6h-22.6zM803.8 139.4h22.6v22.6h-22.6zM807.5 139.4h22.6v22.6h-22.6zM811.2 139.4h22.6v22.6h-22.6zM344.8 143.1h22.6v22.6h-22.6zM363.5 143.1h22.6v22.6h-22.6zM367.2 143.1h22.6v22.6h-22.6zM371.0 143.1h22.6v22.6h-22.6zM374.7 143.1h22.6v22.6h-22.6zM378.4 143.1h22.6v22.6h-22.6zM382.2 143.1h22.6v22.6h-22.6zM800.0 143.1h22.6v22.6h-22.6zM803.8 143.1h22.6v22.6h-22.6zM807.5 143.1h22.6v22.6h-22.6zM811.2 143.1h22.6v22.6h-22.6zM348.6 146.8h22.6v22.6h-22.6zM363.5 146.8h22.6v22.6h-22.6zM367.2 146.8h22.6v22.6h-22.6zM371.0 146.8h22.6v22.6h-22.6zM374.7 146.8h22.6v22.6h-22.6zM800.0 146.8h22.6v22.6h-22.6zM803.8 146.8h22.6v22.6h-22.6zM807.5 146.8h22.6v22.6h-22.6zM811.2 146.8h22.6v22.6h-22.6zM363.5 150.6h22.6v22.6h-22.6zM367.2 150.6h22.6v22.6h-22.6zM371.0 150.6h22.6v22.6h-22.6zM374.7 150.6h22.6v22.6h-22.6zM800.0 150.6h22.6v22.6h-22.6zM803.8 150.6h22.6v22.6h-22.6zM807.5 150.6h22.6v22.6h-22.6zM811.2 150.6h22.6v22.6h-22.6zM826.1 150.6h22.6v22.6h-22.6zM829.9 150.6h22.6v22.6h-22.6zM852.3 150.6h22.6v22.6h-22.6zM363.5 154.3h22.6v22.6h-22.6zM367.2 154.3h22.6v22.6h-22.6zM371.0 154.3h22.6v22.6h-22.6zM374.7 154.3h22.6v22.6h-22.6zM803.8 154.3h22.6v22.6h-22.6zM807.5 154.3h22.6v22.6h-22.6zM811.2 154.3h22.6v22.6h-22.6zM363.5 158.0h22.6v22.6h-22.6zM367.2 158.0h22.6v22.6h-22.6zM371.0 158.0h22.6v22.6h-22.6zM374.7 158.0h22.6v22.6h-22.6zM706.8 158.0h22.6v22.6h-22.6zM710.5 158.0h22.6v22.6h-22.6zM803.8 158.0h22.6v22.6h-22.6zM807.5 158.0h22.6v22.6h-22.6zM811.2 158.0h22.6v22.6h-22.6zM359.8 161.7h22.6v22.6h-22.6zM363.5 161.7h22.6v22.6h-22.6zM367.2 161.7h22.6v22.6h-22.6zM371.0 161.7h22.6v22.6h-22.6zM374.7 161.7h22.6v22.6h-22.6zM706.8 161.7h22.6v22.6h-22.6zM710.5 161.7h22.6v22.6h-22.6zM807.5 161.7h22.6v22.6h-22.6zM811.2 161.7h22.6v22.6h-22.6zM359.8 165.5h22.6v22.6h-22.6zM363.5 165.5h22.6v22.6h-22.6zM367.2 165.5h22.6v22.6h-22.6zM371.0 165.5h22.6v22.6h-22.6zM374.7 165.5h22.6v22.6h-22.6zM703.0 165.5h22.6v22.6h-22.6zM706.8 165.5h22.6v22.6h-22.6zM710.5 165.5h22.6v22.6h-22.6zM714.2 165.5h22.6v22.6h-22.6zM800.0 165.5h22.6v22.6h-22.6zM807.5 165.5h22.6v22.6h-22.6zM811.2 165.5h22.6v22.6h-22.6zM359.8 169.2h22.6v22.6h-22.6zM363.5 169.2h22.6v22.6h-22.6zM367.2 169.2h22.6v22.6h-22.6zM371.0 169.2h22.6v22.6h-22.6zM374.7 169.2h22.6v22.6h-22.6zM378.4 169.2h22.6v22.6h-22.6zM382.2 169.2h22.6v22.6h-22.6zM385.9 169.2h22.6v22.6h-22.6zM706.8 169.2h22.6v22.6h-22.6zM710.5 169.2h22.6v22.6h-22.6zM714.2 169.2h22.6v22.6h-22.6zM1363.4 169.2h22.6v22.6h-22.6zM356.0 172.9h22.6v22.6h-22.6zM359.8 172.9h22.6v22.6h-22.6zM363.5 172.9h22.6v22.6h-22.6zM367.2 172.9h22.6v22.6h-22.6zM371.0 172.9h22.6v22.6h-22.6zM374.7 172.9h22.6v22.6h-22.6zM378.4 172.9h22.6v22.6h-22.6zM382.2 172.9h22.6v22.6h-22.6zM385.9 172.9h22.6v22.6h-22.6zM1363.4 172.9h22.6v22.6h-22.6zM1367.1 172.9h22.6v22.6h-22.6zM359.8 176.7h22.6v22.6h-22.6zM363.5 176.7h22.6v22.6h-22.6zM367.2 176.7h22.6v22.6h-22.6zM371.0 176.7h22.6v22.6h-22.6zM374.7 176.7h22.6v22.6h-22.6zM378.4 176.7h22.6v22.6h-22.6zM382.2 176.7h22.6v22.6h-22.6zM385.9 176.7h22.6v22.6h-22.6zM1348.5 176.7h22.6v22.6h-22.6zM1352.2 176.7h22.6v22.6h-22.6zM1363.4 176.7h22.6v22.6h-22.6zM1367.1 176.7h22.6v22.6h-22.6zM1370.9 176.7h22.6v22.6h-22.6zM363.5 180.4h22.6v22.6h-22.6zM367.2 180.4h22.6v22.6h-22.6zM371.0 180.4h22.6v22.6h-22.6zM374.7 180.4h22.6v22.6h-22.6zM378.4 180.4h22.6v22.6h-22.6zM382.2 180.4h22.6v22.6h-22.6zM385.9 180.4h22.6v22.6h-22.6zM710.5 180.4h22.6v22.6h-22.6zM714.2 180.4h22.6v22.6h-22.6zM811.2 180.4h22.6v22.6h-22.6zM1363.4 180.4h22.6v22.6h-22.6zM1367.1 180.4h22.6v22.6h-22.6zM1370.9 180.4h22.6v22.6h-22.6zM1374.6 180.4h22.6v22.6h-22.6zM363.5 184.1h22.6v22.6h-22.6zM710.5 184.1h22.6v22.6h-22.6zM714.2 184.1h22.6v22.6h-22.6zM1374.6 184.1h22.6v22.6h-22.6zM1382.1 184.1h22.6v22.6h-22.6zM1393.3 184.1h22.6v22.6h-22.6zM1382.1 187.9h22.6v22.6h-22.6zM1393.3 187.9h22.6v22.6h-22.6zM710.5 281.1h22.6v22.6h-22.6zM807.5 281.1h22.6v22.6h-22.6zM811.2 281.1h22.6v22.6h-22.6zM800.0 284.8h22.6v22.6h-22.6zM811.2 284.8h22.6v22.6h-22.6zM800.0 288.6h22.6v22.6h-22.6zM807.5 288.6h22.6v22.6h-22.6zM796.3 292.3h22.6v22.6h-22.6zM803.8 292.3h22.6v22.6h-22.6zM1352.2 292.3h22.6v22.6h-22.6zM1356.0 292.3h22.6v22.6h-22.6zM792.6 296.0h22.6v22.6h-22.6zM800.0 296.0h22.6v22.6h-22.6zM803.8 296.0h22.6v22.6h-22.6zM1344.8 296.0h22.6v22.6h-22.6zM1352.2 296.0h22.6v22.6h-22.6zM1363.4 296.0h22.6v22.6h-22.6zM788.8 299.7h22.6v22.6h-22.6zM796.3 299.7h22.6v22.6h-22.6zM800.0 299.7h22.6v22.6h-22.6zM1344.8 299.7h22.6v22.6h-22.6zM1352.2 299.7h22.6v22.6h-22.6zM1356.0 299.7h22.6v22.6h-22.6zM785.1 303.5h22.6v22.6h-22.6zM792.6 303.5h22.6v22.6h-22.6zM796.3 303.5h22.6v22.6h-22.6zM1344.8 303.5h22.6v22.6h-22.6zM1348.5 303.5h22.6v22.6h-22.6zM1352.2 303.5h22.6v22.6h-22.6zM781.4 307.2h22.6v22.6h-22.6zM788.8 307.2h22.6v22.6h-22.6zM796.3 307.2h22.6v22.6h-22.6zM867.2 307.2h22.6v22.6h-22.6zM1341.0 307.2h22.6v22.6h-22.6zM1348.5 307.2h22.6v22.6h-22.6zM1352.2 307.2h22.6v22.6h-22.6zM773.9 310.9h22.6v22.6h-22.6zM781.4 310.9h22.6v22.6h-22.6zM788.8 310.9h22.6v22.6h-22.6zM815.0 310.9h22.6v22.6h-22.6zM867.2 310.9h22.6v22.6h-22.6zM1337.3 310.9h22.6v22.6h-22.6zM1344.8 310.9h22.6v22.6h-22.6zM1348.5 310.9h22.6v22.6h-22.6zM654.5 314.7h22.6v22.6h-22.6zM658.3 314.7h22.6v22.6h-22.6zM665.7 314.7h22.6v22.6h-22.6zM773.9 314.7h22.6v22.6h-22.6zM781.4 314.7h22.6v22.6h-22.6zM785.1 314.7h22.6v22.6h-22.6zM1333.6 314.7h22.6v22.6h-22.6zM1341.0 314.7h22.6v22.6h-22.6zM1348.5 314.7h22.6v22.6h-22.6zM654.5 318.4h22.6v22.6h-22.6zM658.3 318.4h22.6v22.6h-22.6zM665.7 318.4h22.6v22.6h-22.6zM773.9 318.4h22.6v22.6h-22.6zM777.6 318.4h22.6v22.6h-22.6zM781.4 318.4h22.6v22.6h-22.6zM1214.2 318.4h22.6v22.6h-22.6zM1266.4 318.4h22.6v22.6h-22.6zM1277.6 318.4h22.6v22.6h-22.6zM1333.6 318.4h22.6v22.6h-22.6zM1341.0 318.4h22.6v22.6h-22.6zM1344.8 318.4h22.6v22.6h-22.6zM654.5 322.1h22.6v22.6h-22.6zM658.3 322.1h22.6v22.6h-22.6zM665.7 322.1h22.6v22.6h-22.6zM773.9 322.1h22.6v22.6h-22.6zM781.4 322.1h22.6v22.6h-22.6zM1333.6 322.1h22.6v22.6h-22.6zM1337.3 322.1h22.6v22.6h-22.6zM1344.8 322.1h22.6v22.6h-22.6zM773.9 325.8h22.6v22.6h-22.6zM777.6 325.8h22.6v22.6h-22.6zM1214.2 325.8h22.6v22.6h-22.6zM1273.9 325.8h22.6v22.6h-22.6zM1285.1 325.8h22.6v22.6h-22.6zM1288.8 325.8h22.6v22.6h-22.6zM1300.0 325.8h22.6v22.6h-22.6zM1314.9 325.8h22.6v22.6h-22.6zM1318.6 325.8h22.6v22.6h-22.6zM1322.4 325.8h22.6v22.6h-22.6zM1326.1 325.8h22.6v22.6h-22.6zM1329.8 325.8h22.6v22.6h-22.6zM1333.6 325.8h22.6v22.6h-22.6zM1337.3 325.8h22.6v22.6h-22.6zM1341.0 325.8h22.6v22.6h-22.6zM1344.8 325.8h22.6v22.6h-22.6zM732.9 329.6h22.6v22.6h-22.6zM770.2 329.6h22.6v22.6h-22.6zM773.9 329.6h22.6v22.6h-22.6zM1314.9 329.6h22.6v22.6h-22.6zM1318.6 329.6h22.6v22.6h-22.6zM1322.4 329.6h22.6v22.6h-22.6zM1326.1 329.6h22.6v22.6h-22.6zM1329.8 329.6h22.6v22.6h-22.6zM1333.6 329.6h22.6v22.6h-22.6zM1337.3 329.6h22.6v22.6h-22.6zM1341.0 329.6h22.6v22.6h-22.6zM1344.8 329.6h22.6v22.6h-22.6zM1374.6 329.6h22.6v22.6h-22.6zM718.0 333.3h22.6v22.6h-22.6zM729.1 333.3h22.6v22.6h-22.6zM732.9 333.3h22.6v22.6h-22.6zM744.1 333.3h22.6v22.6h-22.6zM770.2 333.3h22.6v22.6h-22.6zM1314.9 333.3h22.6v22.6h-22.6zM1318.6 333.3h22.6v22.6h-22.6zM1322.4 333.3h22.6v22.6h-22.6zM1326.1 333.3h22.6v22.6h-22.6zM1329.8 333.3h22.6v22.6h-22.6zM1314.9 337.0h22.6v22.6h-22.6zM1318.6 337.0h22.6v22.6h-22.6zM1322.4 337.0h22.6v22.6h-22.6zM662.0 340.8h22.6v22.6h-22.6zM665.7 340.8h22.6v22.6h-22.6zM669.4 340.8h22.6v22.6h-22.6zM673.2 340.8h22.6v22.6h-22.6zM676.9 340.8h22.6v22.6h-22.6zM680.6 340.8h22.6v22.6h-22.6zM1277.6 340.8h22.6v22.6h-22.6zM1296.3 340.8h22.6v22.6h-22.6zM662.0 344.5h22.6v22.6h-22.6zM665.7 344.5h22.6v22.6h-22.6zM669.4 344.5h22.6v22.6h-22.6zM673.2 344.5h22.6v22.6h-22.6zM676.9 344.5h22.6v22.6h-22.6zM680.6 344.5h22.6v22.6h-22.6zM654.5 348.2h22.6v22.6h-22.6zM662.0 348.2h22.6v22.6h-22.6zM665.7 348.2h22.6v22.6h-22.6zM669.4 348.2h22.6v22.6h-22.6zM1300.0 348.2h22.6v22.6h-22.6zM662.0 352.0h22.6v22.6h-22.6zM665.7 352.0h22.6v22.6h-22.6zM669.4 352.0h22.6v22.6h-22.6zM1277.6 352.0h22.6v22.6h-22.6zM1288.8 352.0h22.6v22.6h-22.6zM662.0 355.7h22.6v22.6h-22.6zM650.8 359.4h22.6v22.6h-22.6zM1285.1 359.4h22.6v22.6h-22.6zM624.7 434.0h22.6v22.6h-22.6zM620.9 437.7h22.6v22.6h-22.6zM624.7 437.7h22.6v22.6h-22.6zM632.1 437.7h22.6v22.6h-22.6zM915.7 452.7h22.6v22.6h-22.6zM919.4 452.7h22.6v22.6h-22.6zM930.6 512.3h22.6v22.6h-22.6zM1232.8 545.9h22.6v22.6h-22.6zM1236.6 545.9h22.6v22.6h-22.6zM1240.3 545.9h22.6v22.6h-22.6zM1232.8 549.6h22.6v22.6h-22.6zM1236.6 549.6h22.6v22.6h-22.6zM1240.3 549.6h22.6v22.6h-22.6zM1262.7 549.6h22.6v22.6h-22.6zM1266.4 549.6h22.6v22.6h-22.6zM1337.3 549.6h22.6v22.6h-22.6zM1232.8 553.4h22.6v22.6h-22.6zM1236.6 553.4h22.6v22.6h-22.6zM1240.3 553.4h22.6v22.6h-22.6zM1266.4 553.4h22.6v22.6h-22.6zM1232.8 557.1h22.6v22.6h-22.6zM1236.6 557.1h22.6v22.6h-22.6zM1277.6 560.8h22.6v22.6h-22.6zM1277.6 564.6h22.6v22.6h-22.6zM1333.6 564.6h22.6v22.6h-22.6zM781.4 575.7h22.6v22.6h-22.6zM878.4 575.7h22.6v22.6h-22.6zM882.1 575.7h22.6v22.6h-22.6zM878.4 579.5h22.6v22.6h-22.6zM885.8 579.5h22.6v22.6h-22.6zM882.1 583.2h22.6v22.6h-22.6zM777.6 590.7h22.6v22.6h-22.6zM878.4 590.7h22.6v22.6h-22.6zM777.6 594.4h22.6v22.6h-22.6zM870.9 594.4h22.6v22.6h-22.6zM882.1 594.4h22.6v22.6h-22.6zM777.6 598.1h22.6v22.6h-22.6zM815.0 601.8h22.6v22.6h-22.6zM818.7 601.8h22.6v22.6h-22.6zM822.4 601.8h22.6v22.6h-22.6zM870.9 601.8h22.6v22.6h-22.6zM815.0 605.6h22.6v22.6h-22.6zM818.7 605.6h22.6v22.6h-22.6zM822.4 605.6h22.6v22.6h-22.6zM856.0 605.6h22.6v22.6h-22.6zM979.1 605.6h22.6v22.6h-22.6zM982.9 605.6h22.6v22.6h-22.6zM815.0 609.3h22.6v22.6h-22.6zM818.7 609.3h22.6v22.6h-22.6zM822.4 609.3h22.6v22.6h-22.6zM1445.5 609.3h22.6v22.6h-22.6zM807.5 613.0h22.6v22.6h-22.6zM811.2 613.0h22.6v22.6h-22.6zM815.0 613.0h22.6v22.6h-22.6zM818.7 613.0h22.6v22.6h-22.6zM807.5 616.8h22.6v22.6h-22.6zM811.2 616.8h22.6v22.6h-22.6zM815.0 616.8h22.6v22.6h-22.6zM818.7 616.8h22.6v22.6h-22.6zM807.5 620.5h22.6v22.6h-22.6zM811.2 620.5h22.6v22.6h-22.6zM815.0 620.5h22.6v22.6h-22.6zM818.7 620.5h22.6v22.6h-22.6zM811.2 624.2h22.6v22.6h-22.6zM815.0 624.2h22.6v22.6h-22.6zM815.0 628.0h22.6v22.6h-22.6zM1393.3 628.0h22.6v22.6h-22.6zM1397.0 628.0h22.6v22.6h-22.6zM1400.7 628.0h22.6v22.6h-22.6zM818.7 635.4h22.6v22.6h-22.6zM1397.0 639.1h22.6v22.6h-22.6zM1314.9 642.9h22.6v22.6h-22.6zM1318.6 642.9h22.6v22.6h-22.6zM1389.5 642.9h22.6v22.6h-22.6zM1393.3 642.9h22.6v22.6h-22.6zM1397.0 642.9h22.6v22.6h-22.6zM1400.7 642.9h22.6v22.6h-22.6zM1404.5 642.9h22.6v22.6h-22.6zM1393.3 646.6h22.6v22.6h-22.6zM1397.0 646.6h22.6v22.6h-22.6zM1400.7 646.6h22.6v22.6h-22.6zM1404.5 646.6h22.6v22.6h-22.6zM1408.2 646.6h22.6v22.6h-22.6zM1393.3 650.3h22.6v22.6h-22.6zM1397.0 650.3h22.6v22.6h-22.6zM1400.7 650.3h22.6v22.6h-22.6zM1404.5 650.3h22.6v22.6h-22.6zM1408.2 650.3h22.6v22.6h-22.6zM1393.3 654.1h22.6v22.6h-22.6zM1397.0 654.1h22.6v22.6h-22.6zM1400.7 654.1h22.6v22.6h-22.6zM1404.5 654.1h22.6v22.6h-22.6zM1400.7 657.8h22.6v22.6h-22.6zM1400.7 661.5h22.6v22.6h-22.6zM1404.5 661.5h22.6v22.6h-22.6zM1430.6 661.5h22.6v22.6h-22.6zM870.9 676.4h22.6v22.6h-22.6zM867.2 687.6h22.6v22.6h-22.6zM870.9 687.6h22.6v22.6h-22.6zM874.7 687.6h22.6v22.6h-22.6zM878.4 687.6h22.6v22.6h-22.6zM870.9 691.4h22.6v22.6h-22.6zM874.7 691.4h22.6v22.6h-22.6zM878.4 691.4h22.6v22.6h-22.6zM971.7 732.4h22.6v22.6h-22.6zM975.4 732.4h22.6v22.6h-22.6zM979.1 732.4h22.6v22.6h-22.6zM971.7 736.1h22.6v22.6h-22.6zM979.1 736.1h22.6v22.6h-22.6zM971.7 743.6h22.6v22.6h-22.6zM975.4 743.6h22.6v22.6h-22.6zM960.5 747.3h22.6v22.6h-22.6zM964.2 747.3h22.6v22.6h-22.6zM967.9 747.3h22.6v22.6h-22.6zM971.7 747.3h22.6v22.6h-22.6zM975.4 747.3h22.6v22.6h-22.6zM979.1 747.3h22.6v22.6h-22.6zM960.5 751.0h22.6v22.6h-22.6zM964.2 751.0h22.6v22.6h-22.6zM967.9 751.0h22.6v22.6h-22.6zM971.7 751.0h22.6v22.6h-22.6zM975.4 751.0h22.6v22.6h-22.6zM979.1 751.0h22.6v22.6h-22.6zM960.5 754.8h22.6v22.6h-22.6zM964.2 754.8h22.6v22.6h-22.6zM967.9 754.8h22.6v22.6h-22.6zM971.7 754.8h22.6v22.6h-22.6zM975.4 754.8h22.6v22.6h-22.6zM979.1 754.8h22.6v22.6h-22.6zM960.5 758.5h22.6v22.6h-22.6zM964.2 758.5h22.6v22.6h-22.6zM967.9 758.5h22.6v22.6h-22.6zM971.7 758.5h22.6v22.6h-22.6zM975.4 758.5h22.6v22.6h-22.6zM979.1 758.5h22.6v22.6h-22.6zM960.5 762.2h22.6v22.6h-22.6zM964.2 762.2h22.6v22.6h-22.6zM967.9 762.2h22.6v22.6h-22.6zM971.7 762.2h22.6v22.6h-22.6zM975.4 762.2h22.6v22.6h-22.6zM979.1 762.2h22.6v22.6h-22.6zM960.5 766.0h22.6v22.6h-22.6zM964.2 766.0h22.6v22.6h-22.6zM967.9 766.0h22.6v22.6h-22.6zM971.7 766.0h22.6v22.6h-22.6zM975.4 766.0h22.6v22.6h-22.6zM979.1 766.0h22.6v22.6h-22.6zM982.9 766.0h22.6v22.6h-22.6zM960.5 769.7h22.6v22.6h-22.6zM964.2 769.7h22.6v22.6h-22.6zM967.9 769.7h22.6v22.6h-22.6zM971.7 769.7h22.6v22.6h-22.6zM975.4 769.7h22.6v22.6h-22.6zM979.1 769.7h22.6v22.6h-22.6zM960.5 773.4h22.6v22.6h-22.6zM964.2 773.4h22.6v22.6h-22.6zM967.9 773.4h22.6v22.6h-22.6zM971.7 773.4h22.6v22.6h-22.6zM1453.0 892.8h22.6v22.6h-22.6zM1456.7 892.8h22.6v22.6h-22.6zM1453.0 896.5h22.6v22.6h-22.6zM1456.7 896.5h22.6v22.6h-22.6zM1441.8 904.0h22.6v22.6h-22.6zM1449.2 904.0h22.6v22.6h-22.6zM1303.7 1075.5h22.6v22.6h-22.6zM1307.4 1075.5h22.6v22.6h-22.6zM1307.4 1079.2h22.6v22.6h-22.6zM1311.2 1079.2h22.6v22.6h-22.6zM1311.2 1086.7h22.6v22.6h-22.6zM1389.5 1086.7h22.6v22.6h-22.6zM1314.9 1094.2h22.6v22.6h-22.6zM1318.6 1094.2h22.6v22.6h-22.6zM1370.9 1094.2h22.6v22.6h-22.6zM1378.3 1094.2h22.6v22.6h-22.6zM1389.5 1094.2h22.6v22.6h-22.6zM1363.4 1097.9h22.6v22.6h-22.6zM1367.1 1097.9h22.6v22.6h-22.6zM1370.9 1097.9h22.6v22.6h-22.6zM1374.6 1097.9h22.6v22.6h-22.6zM1378.3 1097.9h22.6v22.6h-22.6zM1363.4 1101.6h22.6v22.6h-22.6zM1367.1 1101.6h22.6v22.6h-22.6zM1370.9 1101.6h22.6v22.6h-22.6zM1374.6 1101.6h22.6v22.6h-22.6zM1378.3 1101.6h22.6v22.6h-22.6zM1329.8 1105.4h22.6v22.6h-22.6zM1359.7 1105.4h22.6v22.6h-22.6zM1363.4 1105.4h22.6v22.6h-22.6zM1367.1 1105.4h22.6v22.6h-22.6zM1370.9 1105.4h22.6v22.6h-22.6zM1374.6 1105.4h22.6v22.6h-22.6zM1378.3 1105.4h22.6v22.6h-22.6zM1329.8 1109.1h22.6v22.6h-22.6zM1311.2 1112.8h22.6v22.6h-22.6zM1326.1 1112.8h22.6v22.6h-22.6zM1329.8 1112.8h22.6v22.6h-22.6zM1303.7 1116.5h22.6v22.6h-22.6zM1311.2 1116.5h22.6v22.6h-22.6zM1326.1 1116.5h22.6v22.6h-22.6zM1329.8 1116.5h22.6v22.6h-22.6zM1322.4 1120.3h22.6v22.6h-22.6zM1326.1 1120.3h22.6v22.6h-22.6zM1329.8 1120.3h22.6v22.6h-22.6zM1356.0 1120.3h22.6v22.6h-22.6zM1322.4 1124.0h22.6v22.6h-22.6zM1326.1 1124.0h22.6v22.6h-22.6zM1329.8 1124.0h22.6v22.6h-22.6zM1333.6 1124.0h22.6v22.6h-22.6zM1337.3 1124.0h22.6v22.6h-22.6zM1341.0 1124.0h22.6v22.6h-22.6zM1344.8 1124.0h22.6v22.6h-22.6zM1348.5 1124.0h22.6v22.6h-22.6zM1352.2 1124.0h22.6v22.6h-22.6zM1356.0 1124.0h22.6v22.6h-22.6zM1322.4 1127.7h22.6v22.6h-22.6zM1326.1 1127.7h22.6v22.6h-22.6zM1329.8 1127.7h22.6v22.6h-22.6zM1333.6 1127.7h22.6v22.6h-22.6zM1337.3 1127.7h22.6v22.6h-22.6zM1341.0 1127.7h22.6v22.6h-22.6zM1344.8 1127.7h22.6v22.6h-22.6zM1348.5 1127.7h22.6v22.6h-22.6zM1352.2 1127.7h22.6v22.6h-22.6zM1356.0 1127.7h22.6v22.6h-22.6zM1359.7 1127.7h22.6v22.6h-22.6zM1333.6 1146.4h22.6v22.6h-22.6zM1337.3 1146.4h22.6v22.6h-22.6zM1341.0 1153.8h22.6v22.6h-22.6zM1356.0 1153.8h22.6v22.6h-22.6zM1356.0 1172.5h22.6v22.6h-22.6zM1359.7 1172.5h22.6v22.6h-22.6zM1501.5 1317.9h22.6v22.6h-22.6z"/>
</g>
<g fill="none" stroke="#ff0000" stroke-width="2.80" stroke-linejoin="round">
<path d="M345.0 148.4L359.9 174.2L330.1 174.2zM348.7 152.1L363.6 177.9L333.8 177.9zM359.9 159.6L374.8 185.4L345.0 185.4zM359.9 163.3L374.8 189.1L345.0 189.1zM363.6 118.5L378.5 144.3L348.7 144.3zM363.6 122.3L378.5 148.1L348.7 148.1zM363.6 126.0L378.5 151.8L348.7 151.8zM363.6 159.6L378.5 185.4L348.7 185.4zM363.6 163.3L378.5 189.1L348.7 189.1zM367.3 103.6L382.2 129.4L352.4 129.4zM367.3 107.4L382.2 133.2L352.4 133.2zM367.3 111.1L382.2 136.9L352.4 136.9zM367.3 114.8L382.2 140.6L352.4 140.6zM367.3 118.5L382.2 144.3L352.4 144.3zM367.3 122.3L382.2 148.1L352.4 148.1zM367.3 126.0L382.2 151.8L352.4 151.8zM367.3 129.7L382.2 155.5L352.4 155.5zM367.3 159.6L382.2 185.4L352.4 185.4zM367.3 163.3L382.2 189.1L352.4 189.1zM371.1 99.9L386.0 125.7L356.2 125.7zM371.1 103.6L386.0 129.4L356.2 129.4zM371.1 107.4L386.0 133.2L356.2 133.2zM371.1 111.1L386.0 136.9L356.2 136.9zM371.1 114.8L386.0 140.6L356.2 140.6zM371.1 118.5L386.0 144.3L356.2 144.3zM371.1 122.3L386.0 148.1L356.2 148.1zM371.1 126.0L386.0 151.8L356.2 151.8zM371.1 129.7L386.0 155.5L356.2 155.5zM371.1 159.6L386.0 185.4L356.2 185.4zM371.1 163.3L386.0 189.1L356.2 189.1zM371.1 167.0L386.0 192.8L356.2 192.8zM374.8 96.2L389.7 122.0L359.9 122.0zM374.8 99.9L389.7 125.7L359.9 125.7zM374.8 103.6L389.7 129.4L359.9 129.4zM374.8 107.4L389.7 133.2L359.9 133.2zM374.8 111.1L389.7 136.9L359.9 136.9zM374.8 114.8L389.7 140.6L359.9 140.6zM374.8 118.5L389.7 144.3L359.9 144.3zM374.8 122.3L389.7 148.1L359.9 148.1zM374.8 126.0L389.7 151.8L359.9 151.8zM374.8 129.7L389.7 155.5L359.9 155.5zM374.8 159.6L389.7 185.4L359.9 185.4zM374.8 163.3L389.7 189.1L359.9 189.1zM374.8 167.0L389.7 192.8L359.9 192.8zM374.8 170.8L389.7 196.6L359.9 196.6zM374.8 174.5L389.7 200.3L359.9 200.3zM378.5 92.4L393.4 118.2L363.6 118.2zM378.5 96.2L393.4 122.0L363.6 122.0zM378.5 99.9L393.4 125.7L363.6 125.7zM378.5 103.6L393.4 129.4L363.6 129.4zM378.5 107.4L393.4 133.2L363.6 133.2zM378.5 111.1L393.4 136.9L363.6 136.9zM378.5 114.8L393.4 140.6L363.6 140.6zM378.5 118.5L393.4 144.3L363.6 144.3zM378.5 122.3L393.4 148.1L363.6 148.1zM378.5 159.6L393.4 185.4L363.6 185.4zM378.5 163.3L393.4 189.1L363.6 189.1zM378.5 167.0L393.4 192.8L363.6 192.8zM378.5 170.8L393.4 196.6L363.6 196.6zM378.5 174.5L393.4 200.3L363.6 200.3zM378.5 178.2L393.4 204.0L363.6 204.0zM378.5 182.0L393.4 207.8L363.6 207.8zM382.3 88.7L397.2 114.5L367.4 114.5zM382.3 92.4L397.2 118.2L367.4 118.2zM382.3 96.2L397.2 122.0L367.4 122.0zM382.3 99.9L397.2 125.7L367.4 125.7zM382.3 103.6L397.2 129.4L367.4 129.4zM382.3 107.4L397.2 133.2L367.4 133.2zM382.3 111.1L397.2 136.9L367.4 136.9zM382.3 114.8L397.2 140.6L367.4 140.6zM382.3 118.5L397.2 144.3L367.4 144.3zM382.3 159.6L397.2 185.4L367.4 185.4zM382.3 163.3L397.2 189.1L367.4 189.1zM382.3 167.0L397.2 192.8L367.4 192.8zM382.3 170.8L397.2 196.6L367.4 196.6zM382.3 174.5L397.2 200.3L367.4 200.3zM386.0 88.7L400.9 114.5L371.1 114.5zM386.0 92.4L400.9 118.2L371.1 118.2zM386.0 96.2L400.9 122.0L371.1 122.0zM386.0 99.9L400.9 125.7L371.1 125.7zM386.0 103.6L400.9 129.4L371.1 129.4zM386.0 107.4L400.9 133.2L371.1 133.2zM386.0 111.1L400.9 136.9L371.1 136.9zM386.0 114.8L400.9 140.6L371.1 140.6zM386.0 159.6L400.9 185.4L371.1 185.4zM386.0 163.3L400.9 189.1L371.1 189.1zM386.0 167.0L400.9 192.8L371.1 192.8zM386.0 170.8L400.9 196.6L371.1 196.6zM386.0 174.5L400.9 200.3L371.1 200.3zM386.0 178.2L400.9 204.0L371.1 204.0zM386.0 185.7L400.9 211.5L371.1 211.5zM386.0 189.4L400.9 215.2L371.1 215.2zM389.7 88.7L404.6 114.5L374.8 114.5zM389.7 92.4L404.6 118.2L374.8 118.2zM389.7 96.2L404.6 122.0L374.8 122.0zM389.7 99.9L404.6 125.7L374.8 125.7zM389.7 103.6L404.6 129.4L374.8 129.4zM389.7 107.4L404.6 133.2L374.8 133.2zM389.7 111.1L404.6 136.9L374.8 136.9zM389.7 159.6L404.6 185.4L374.8 185.4zM389.7 163.3L404.6 189.1L374.8 189.1zM389.7 167.0L404.6 192.8L374.8 192.8zM389.7 170.8L404.6 196.6L374.8 196.6zM389.7 174.5L404.6 200.3L374.8 200.3zM389.7 182.0L404.6 207.8L374.8 207.8zM389.7 193.1L404.6 218.9L374.8 218.9zM393.5 85.0L408.4 110.8L378.6 110.8zM393.5 88.7L408.4 114.5L378.6 114.5zM393.5 92.4L408.4 118.2L378.6 118.2zM393.5 96.2L408.4 122.0L378.6 122.0zM393.5 99.9L408.4 125.7L378.6 125.7zM393.5 103.6L408.4 129.4L378.6 129.4zM393.5 107.4L408.4 133.2L378.6 133.2zM393.5 159.6L408.4 185.4L378.6 185.4zM393.5 163.3L408.4 189.1L378.6 189.1zM393.5 167.0L408.4 192.8L378.6 192.8zM393.5 170.8L408.4 196.6L378.6 196.6zM393.5 174.5L408.4 200.3L378.6 200.3zM393.5 178.2L408.4 204.0L378.6 204.0zM393.5 185.7L408.4 211.5L378.6 211.5zM393.5 189.4L408.4 215.2L378.6 215.2zM397.2 81.2L412.1 107.0L382.3 107.0zM397.2 85.0L412.1 110.8L382.3 110.8zM397.2 88.7L412.1 114.5L382.3 114.5zM397.2 92.4L412.1 118.2L382.3 118.2zM397.2 96.2L412.1 122.0L382.3 122.0zM397.2 99.9L412.1 125.7L382.3 125.7zM397.2 159.6L412.1 185.4L382.3 185.4zM397.2 163.3L412.1 189.1L382.3 189.1zM397.2 167.0L412.1 192.8L382.3 192.8zM397.2 170.8L412.1 196.6L382.3 196.6zM397.2 174.5L412.1 200.3L382.3 200.3zM397.2 178.2L412.1 204.0L382.3 204.0zM397.2 182.0L412.1 207.8L382.3 207.8zM400.9 81.2L415.8 107.0L386.0 107.0zM400.9 85.0L415.8 110.8L386.0 110.8zM400.9 88.7L415.8 114.5L386.0 114.5zM400.9 92.4L415.8 118.2L386.0 118.2zM400.9 96.2L415.8 122.0L386.0 122.0zM400.9 159.6L415.8 185.4L386.0 185.4zM400.9 163.3L415.8 189.1L386.0 189.1zM404.7 81.2L419.5 107.0L389.8 107.0zM404.7 85.0L419.5 110.8L389.8 110.8zM404.7 88.7L419.5 114.5L389.8 114.5zM404.7 92.4L419.5 118.2L389.8 118.2zM404.7 96.2L419.5 122.0L389.8 122.0zM408.4 81.2L423.3 107.0L393.5 107.0zM408.4 85.0L423.3 110.8L393.5 110.8zM408.4 88.7L423.3 114.5L393.5 114.5zM408.4 92.4L423.3 118.2L393.5 118.2zM412.1 77.5L427.0 103.3L397.2 103.3zM412.1 81.2L427.0 107.0L397.2 107.0zM412.1 85.0L427.0 110.8L397.2 110.8zM412.1 88.7L427.0 114.5L397.2 114.5zM412.1 92.4L427.0 118.2L397.2 118.2zM415.8 81.2L430.7 107.0L401.0 107.0zM415.8 85.0L430.7 110.8L401.0 110.8zM415.8 88.7L430.7 114.5L401.0 114.5zM419.6 81.2L434.5 107.0L404.7 107.0zM423.3 81.2L438.2 107.0L408.4 107.0zM423.3 96.2L438.2 122.0L408.4 122.0zM714.3 81.2L729.2 107.0L699.4 107.0zM781.5 301.3L796.4 327.1L766.6 327.1zM781.5 316.2L796.4 342.0L766.6 342.0zM781.5 584.8L796.4 610.6L766.6 610.6zM785.2 312.5L800.1 338.3L770.3 338.3zM788.9 316.2L803.8 342.0L774.1 342.0zM796.4 290.1L811.3 315.9L781.5 315.9zM796.4 301.3L811.3 327.1L781.5 327.1zM796.4 316.2L811.3 342.0L781.5 342.0zM796.4 592.2L811.3 618.0L781.5 618.0zM800.1 290.1L815.0 315.9L785.2 315.9zM800.1 293.8L815.0 319.6L785.2 319.6zM800.1 297.6L815.0 323.4L785.2 323.4zM800.1 301.3L815.0 327.1L785.2 327.1zM800.1 305.0L815.0 330.8L785.2 330.8zM803.9 286.4L818.8 312.2L789.0 312.2zM803.9 290.1L818.8 315.9L789.0 315.9zM803.9 293.8L818.8 319.6L789.0 319.6zM803.9 297.6L818.8 323.4L789.0 323.4zM803.9 301.3L818.8 327.1L789.0 327.1zM803.9 305.0L818.8 330.8L789.0 330.8zM807.6 275.2L822.5 301.0L792.7 301.0zM807.6 278.9L822.5 304.7L792.7 304.7zM807.6 282.7L822.5 308.5L792.7 308.5zM807.6 286.4L822.5 312.2L792.7 312.2zM807.6 290.1L822.5 315.9L792.7 315.9zM807.6 293.8L822.5 319.6L792.7 319.6zM807.6 297.6L822.5 323.4L792.7 323.4zM807.6 301.3L822.5 327.1L792.7 327.1zM807.6 305.0L822.5 330.8L792.7 330.8zM811.3 275.2L826.2 301.0L796.4 301.0zM811.3 278.9L826.2 304.7L796.4 304.7zM811.3 282.7L826.2 308.5L796.4 308.5zM811.3 286.4L826.2 312.2L796.4 312.2zM811.3 290.1L826.2 315.9L796.4 315.9zM811.3 293.8L826.2 319.6L796.4 319.6zM811.3 297.6L826.2 323.4L796.4 323.4zM811.3 301.3L826.2 327.1L796.4 327.1zM811.3 305.0L826.2 330.8L796.4 330.8zM811.3 592.2L826.2 618.0L796.4 618.0zM811.3 607.1L826.2 632.9L796.4 632.9zM815.1 278.9L830.0 304.7L800.2 304.7zM815.1 282.7L830.0 308.5L800.2 308.5zM815.1 286.4L830.0 312.2L800.2 312.2zM815.1 290.1L830.0 315.9L800.2 315.9zM815.1 293.8L830.0 319.6L800.2 319.6zM815.1 297.6L830.0 323.4L800.2 323.4zM815.1 301.3L830.0 327.1L800.2 327.1zM818.8 278.9L833.7 304.7L803.9 304.7zM818.8 282.7L833.7 308.5L803.9 308.5zM818.8 286.4L833.7 312.2L803.9 312.2zM818.8 290.1L833.7 315.9L803.9 315.9zM818.8 293.8L833.7 319.6L803.9 319.6zM818.8 297.6L833.7 323.4L803.9 323.4zM818.8 301.3L833.7 327.1L803.9 327.1zM822.5 271.5L837.4 297.3L807.6 297.3zM822.5 275.2L837.4 301.0L807.6 301.0zM822.5 278.9L837.4 304.7L807.6 304.7zM822.5 282.7L837.4 308.5L807.6 308.5zM822.5 286.4L837.4 312.2L807.6 312.2zM822.5 290.1L837.4 315.9L807.6 315.9zM822.5 293.8L837.4 319.6L807.6 319.6zM822.5 297.6L837.4 323.4L807.6 323.4zM822.5 301.3L837.4 327.1L807.6 327.1zM822.5 592.2L837.4 618.0L807.6 618.0zM822.5 595.9L837.4 621.7L807.6 621.7zM822.5 599.7L837.4 625.5L807.6 625.5zM822.5 603.4L837.4 629.2L807.6 629.2zM822.5 607.1L837.4 632.9L807.6 632.9zM822.5 610.9L837.4 636.7L807.6 636.7zM822.5 614.6L837.4 640.4L807.6 640.4zM822.5 618.3L837.4 644.1L807.6 644.1zM826.3 271.5L841.2 297.3L811.4 297.3zM826.3 275.2L841.2 301.0L811.4 301.0zM826.3 278.9L841.2 304.7L811.4 304.7zM826.3 282.7L841.2 308.5L811.4 308.5zM826.3 592.2L841.2 618.0L811.4 618.0zM826.3 595.9L841.2 621.7L811.4 621.7zM826.3 599.7L841.2 625.5L811.4 625.5zM826.3 603.4L841.2 629.2L811.4 629.2zM826.3 607.1L841.2 632.9L811.4 632.9zM826.3 610.9L841.2 636.7L811.4 636.7zM826.3 614.6L841.2 640.4L811.4 640.4zM826.3 618.3L841.2 644.1L811.4 644.1zM830.0 599.7L844.9 625.5L815.1 625.5zM830.0 607.1L844.9 632.9L815.1 632.9zM833.7 592.2L848.6 618.0L818.8 618.0zM1344.9 81.2L1359.8 107.0L1330.0 107.0zM1344.9 85.0L1359.8 110.8L1330.0 110.8zM1344.9 88.7L1359.8 114.5L1330.0 114.5zM1344.9 92.4L1359.8 118.2L1330.0 118.2zM1344.9 1121.8L1359.8 1147.6L1330.0 1147.6zM1344.9 1125.6L1359.8 1151.4L1330.0 1151.4zM1356.1 81.2L1371.0 107.0L1341.2 107.0zM1356.1 85.0L1371.0 110.8L1341.2 110.8zM1356.1 88.7L1371.0 114.5L1341.2 114.5zM1356.1 92.4L1371.0 118.2L1341.2 118.2zM1356.1 96.2L1371.0 122.0L1341.2 122.0zM1356.1 278.9L1371.0 304.7L1341.2 304.7zM1356.1 290.1L1371.0 315.9L1341.2 315.9zM1356.1 301.3L1371.0 327.1L1341.2 327.1zM1356.1 305.0L1371.0 330.8L1341.2 330.8zM1356.1 316.2L1371.0 342.0L1341.2 342.0zM1356.1 1114.4L1371.0 1140.2L1341.2 1140.2zM1356.1 1125.6L1371.0 1151.4L1341.2 1151.4zM1359.8 293.8L1374.7 319.6L1344.9 319.6zM1359.8 297.6L1374.7 323.4L1344.9 323.4zM1359.8 301.3L1374.7 327.1L1344.9 327.1zM1363.5 290.1L1378.4 315.9L1348.6 315.9zM1363.5 293.8L1378.4 319.6L1348.6 319.6zM1363.5 297.6L1378.4 323.4L1348.6 323.4zM1363.5 301.3L1378.4 327.1L1348.6 327.1zM1363.5 305.0L1378.4 330.8L1348.6 330.8zM1363.5 308.8L1378.4 334.6L1348.6 334.6zM1367.3 293.8L1382.1 319.6L1352.4 319.6zM1367.3 297.6L1382.1 323.4L1352.4 323.4zM1367.3 301.3L1382.1 327.1L1352.4 327.1zM1371.0 77.5L1385.9 103.3L1356.1 103.3zM1371.0 81.2L1385.9 107.0L1356.1 107.0zM1371.0 88.7L1385.9 114.5L1356.1 114.5zM1371.0 275.2L1385.9 301.0L1356.1 301.0zM1371.0 290.1L1385.9 315.9L1356.1 315.9zM1371.0 301.3L1385.9 327.1L1356.1 327.1zM1371.0 316.2L1385.9 342.0L1356.1 342.0zM1371.0 689.2L1385.9 715.0L1356.1 715.0zM1371.0 1166.6L1385.9 1192.4L1356.1 1192.4zM1371.0 1170.3L1385.9 1196.1L1356.1 1196.1z"/>
</g>
<path d="M1202.5 73.0L1217.4 98.8L1187.6 98.8z" fill="none" stroke="#f00" stroke-width="2.8" stroke-linejoin="round"/>
<rect x="1191.2" y="138.4" width="22.6" height="22.6" fill="none" stroke="#00f" stroke-width="2.9" stroke-linejoin="round"/>
<text transform="translate(1248 108) scale(0.996 1.052)" font-size="50">DNCON2-RR</text>
<text transform="translate(1248 168) scale(0.996 1.052)" font-size="50">Model-RR</text>
<text transform="translate(200 1451.2) scale(1 1.029)" font-size="103.5">Top-L/2</text>
</svg>
</body></html>
